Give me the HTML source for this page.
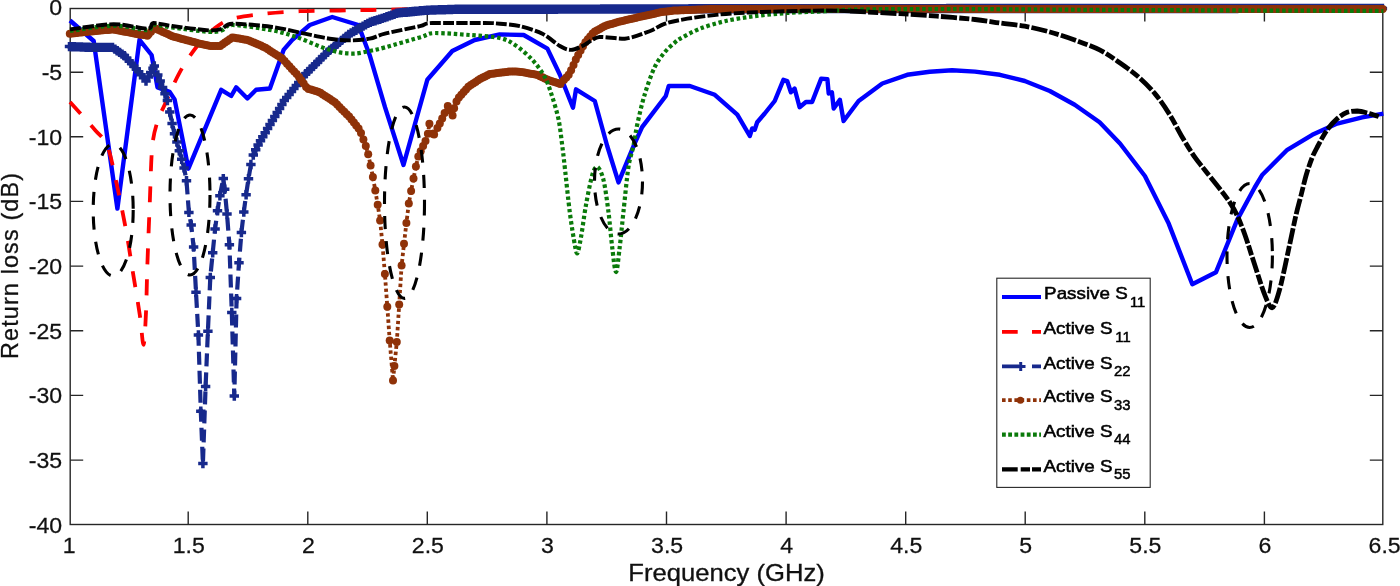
<!DOCTYPE html>
<html><head><meta charset="utf-8"><title>Return loss</title>
<style>html,body{margin:0;padding:0;background:#fff}body{width:1400px;height:586px;overflow:hidden}.t text{font-family:"Liberation Sans",sans-serif}</style></head>
<body>
<svg width="1400" height="586" viewBox="0 0 1400 586" style="display:block">
<rect width="1400" height="586" fill="#fff"/>
<g stroke="#262626" stroke-width="1.4" fill="none">
<rect x="70.2" y="8.5" width="1312.6" height="516.0"/>
<path d="M188.2 524.5 v-13 M188.2 8.5 v13"/>
<path d="M307.8 524.5 v-13 M307.8 8.5 v13"/>
<path d="M427.3 524.5 v-13 M427.3 8.5 v13"/>
<path d="M546.9 524.5 v-13 M546.9 8.5 v13"/>
<path d="M666.5 524.5 v-13 M666.5 8.5 v13"/>
<path d="M786.1 524.5 v-13 M786.1 8.5 v13"/>
<path d="M905.7 524.5 v-13 M905.7 8.5 v13"/>
<path d="M1025.2 524.5 v-13 M1025.2 8.5 v13"/>
<path d="M1144.8 524.5 v-13 M1144.8 8.5 v13"/>
<path d="M1264.4 524.5 v-13 M1264.4 8.5 v13"/>
<path d="M70.2 72.2 h13 M1382.8 72.2 h-13"/>
<path d="M70.2 136.8 h13 M1382.8 136.8 h-13"/>
<path d="M70.2 201.4 h13 M1382.8 201.4 h-13"/>
<path d="M70.2 266.1 h13 M1382.8 266.1 h-13"/>
<path d="M70.2 330.8 h13 M1382.8 330.8 h-13"/>
<path d="M70.2 395.4 h13 M1382.8 395.4 h-13"/>
<path d="M70.2 460.1 h13 M1382.8 460.1 h-13"/>
</g>
<g fill="none" stroke-linejoin="round">
<path d="M70.0 20.5 L93.7 41.0 L117.4 208.6 L139.5 39.8 L151.6 55.0 L157.5 87.4 L169.5 91.7 L174.6 99.4 L188.4 168.7 L221.2 89.8 L231.2 96.0 L236.2 87.3 L247.4 98.5 L256.1 89.8 L269.9 88.5 L283.6 49.9 L292.3 39.9 L309.8 25.0 L332.2 17.0 L358.4 25.0 L369.6 54.9 L385.0 107.2 L403.5 165.0 L427.3 79.8 L452.3 51.0 L474.7 40.0 L499.7 34.4 L523.7 35.0 L547.4 48.6 L559.9 74.8 L573.0 107.7 L576.0 89.3 L594.8 101.0 L607.2 146.0 L618.5 182.4 L634.7 143.4 L642.1 127.2 L665.8 96.0 L668.7 86.0 L689.9 86.0 L714.8 94.8 L737.3 114.7 L749.8 136.0 L752.2 128.4 L754.7 129.7 L757.2 122.2 L764.7 113.5 L774.7 101.0 L783.4 79.8 L787.2 81.0 L790.9 92.3 L794.6 88.5 L799.6 107.2 L805.9 102.0 L812.1 102.0 L821.2 78.6 L827.4 79.3 L828.7 93.5 L831.9 92.3 L833.7 108.5 L839.9 99.8 L843.6 121.0 L858.6 101.0 L882.3 83.5 L907.2 74.8 L929.7 71.8 L952.1 70.3 L975.0 71.6 L999.9 74.8 L1024.8 81.0 L1049.8 91.0 L1074.7 104.7 L1099.6 122.2 L1120.0 143.5 L1144.9 176.0 L1168.7 223.6 L1192.3 284.2 L1216.0 272.2 L1237.2 219.9 L1254.7 187.5 L1262.4 174.7 L1287.3 149.8 L1312.3 134.8 L1337.2 123.6 L1362.2 117.3 L1383.4 113.6" stroke="#0000ff" stroke-width="4.4" stroke-linejoin="round"/>
<path d="M70.0 102.0 C74.0 106.5 89.0 123.0 95.0 130.0 C101.0 137.0 103.8 136.8 107.4 146.0 C111.0 155.2 114.4 174.0 117.4 187.4 C120.4 200.8 123.6 217.0 126.0 230.0 C128.4 243.0 130.1 255.1 132.3 268.7 C134.5 282.3 138.0 302.8 139.8 315.0 C141.6 327.2 142.5 344.8 143.5 344.8 C144.5 344.4 145.4 324.8 146.0 312.4 C146.6 300.0 146.7 284.6 147.3 267.0 C147.9 249.4 149.0 221.7 149.8 202.3 C150.6 182.9 151.0 159.2 152.3 146.0 C153.6 132.8 156.0 126.6 158.0 120.0 C160.0 113.4 161.2 112.3 164.7 104.7 C168.2 97.1 174.5 81.7 179.7 72.3 C184.9 62.9 191.6 53.1 197.2 46.0 C202.8 38.9 209.4 32.4 215.0 28.0 C220.6 23.6 224.4 21.0 232.4 18.7 C240.4 16.4 254.1 14.9 264.9 13.7 C275.7 12.5 287.8 11.7 299.8 11.2 C311.8 10.7 328.1 10.7 339.7 10.5 C351.3 10.3 358.4 10.2 372.0 10.0 C385.6 9.8 404.5 9.2 425.0 9.0 C445.5 8.8 488.0 8.7 500.0 8.7" stroke="#ff0000" stroke-width="3.8" stroke-dasharray="16 15"/>
<path d="M69.5 46.6 L71.9 46.7 L74.3 46.8 L76.7 46.9 L79.0 46.9 L81.4 47.0 L83.8 47.1 L86.2 47.2 L88.6 47.3 L91.0 47.4 L93.4 47.4 L95.8 47.4 L98.1 47.4 L100.5 47.4 L102.9 47.4 L105.3 47.4 L107.7 47.4 L110.1 47.4 L112.5 47.4 L114.9 49.1 L117.2 50.8 L119.6 52.4 L122.0 54.1 L124.4 55.7 L126.8 58.2 L129.2 60.9 L131.6 63.6 L133.9 66.2 L136.3 68.9 L138.7 71.8 L141.1 74.8 L143.5 77.8 L146.0 81.0 L148.3 76.9 L150.7 72.6 L153.0 68.3 L154.3 66.0 L157.8 75.0 L160.2 81.1 L162.6 87.4 L165.0 93.8 L167.4 100.5 L169.8 112.0 L172.1 123.5 L174.5 133.7 L176.9 142.1 L179.3 150.7 L181.7 159.2 L184.1 167.9 L186.5 180.8 L188.9 212.4 L191.2 224.9 L193.6 247.1 L196.0 292.2 L198.4 335.0 L200.8 411.2 L202.9 463.5 L205.6 386.4 L207.9 331.3 L210.3 277.4 L212.7 252.8 L215.1 228.9 L217.5 210.7 L219.9 195.7 L223.3 178.6 L224.7 189.3 L227.0 213.9 L229.4 244.8 L231.8 312.5 L234.3 396.0 L236.6 298.6 L239.0 262.8 L241.4 232.6 L243.8 212.1 L246.1 194.7 L248.5 178.8 L250.9 164.5 L253.3 155.1 L255.7 149.8 L258.1 144.9 L260.5 140.8 L262.8 136.7 L265.2 132.7 L267.6 128.6 L270.0 124.5 L272.4 120.5 L274.8 116.5 L277.2 112.6 L279.6 108.6 L281.9 104.6 L284.3 100.6 L286.7 97.4 L289.1 94.4 L291.5 91.4 L293.9 88.5 L296.3 85.5 L298.7 82.5 L301.0 79.5 L303.4 76.5 L305.8 73.8 L308.2 71.4 L310.6 69.0 L313.0 66.6 L315.4 64.2 L317.7 61.9 L320.1 59.5 L322.5 57.1 L324.9 54.7 L327.3 52.3 L329.7 50.3 L332.1 48.4 L334.5 46.4 L336.8 44.4 L339.2 42.4 L341.6 40.4 L344.0 38.4 L346.4 36.4 L348.8 34.5 L351.2 32.9 L353.6 31.5 L355.9 30.2 L358.3 28.8 L360.7 27.4 L363.1 26.1 L365.5 24.7 L367.9 23.4 L370.3 22.2 L372.6 21.4 L375.0 20.7 L377.4 19.9 L379.8 19.2 L382.2 18.4 L384.6 17.6 L387.0 16.8 L389.4 15.9 L391.7 15.1 L394.1 14.2 L396.5 13.3 L398.9 12.9 L401.3 12.6 L403.7 12.4 L406.1 12.2 L408.5 12.0 L410.8 11.7 L413.2 11.5 L415.6 11.3 L418.0 11.1 L420.4 10.8 L422.8 10.6 L425.2 10.4 L427.6 10.2 L429.9 10.1 L432.3 10.0 L434.7 10.0 L437.1 9.9 L439.5 9.8 L441.9 9.8 L444.3 9.7 L446.6 9.6 L449.0 9.5 L451.4 9.5 L453.8 9.4 L456.2 9.3 L458.6 9.2 L461.0 9.2 L463.4 9.2 L465.7 9.2 L468.1 9.2 L470.5 9.2 L472.9 9.2 L475.3 9.2 L477.7 9.2 L480.1 9.2 L482.5 9.2 L484.8 9.2 L487.2 9.2 L489.6 9.2 L492.0 9.2 L494.4 9.2 L496.8 9.2 L499.2 9.2 L501.5 9.2 L503.9 9.2 L506.3 9.2 L508.7 9.2 L511.1 9.2 L513.5 9.2 L515.9 9.2 L518.3 9.2 L520.6 9.2 L523.0 9.2 L525.4 9.2 L527.8 9.2 L530.2 9.2 L532.6 9.2 L535.0 9.2 L537.4 9.2 L539.7 9.2 L542.1 9.2 L544.5 9.2 L546.9 9.2 L549.3 9.2 L551.7 9.2 L554.1 9.2 L556.4 9.2 L558.8 9.1 L561.2 9.1 L563.6 9.1 L566.0 9.1 L568.4 9.1 L570.8 9.1 L573.2 9.1 L575.5 9.1 L577.9 9.1 L580.3 9.1 L582.7 9.1 L585.1 9.1 L587.5 9.1 L589.9 9.1 L592.3 9.1 L594.6 9.1 L597.0 9.1 L599.4 9.1 L601.8 9.0 L604.2 9.0 L606.6 9.0 L609.0 9.0 L611.3 9.0 L613.7 9.0 L616.1 9.0 L618.5 9.0 L620.9 9.0 L623.3 9.0 L625.7 9.0 L628.1 9.0 L630.4 9.0 L632.8 9.0 L635.2 9.0 L637.6 9.0 L640.0 9.0 L642.4 9.0 L644.8 9.0 L647.2 8.9 L649.5 8.9 L651.9 8.9 L654.3 8.9 L656.7 8.9 L659.1 8.9 L661.5 8.9 L663.9 8.9 L666.3 8.9 L668.6 8.9 L671.0 8.9 L673.4 8.9 L675.8 8.9 L678.2 8.9 L680.6 8.9 L683.0 8.9 L685.3 8.9 L687.7 8.9 L690.1 8.8 L692.5 8.8 L694.9 8.8 L697.3 8.8 L699.7 8.8 L702.1 8.8 L704.4 8.8 L706.8 8.8 L709.2 8.8 L711.6 8.8 L714.0 8.8 L716.4 8.8 L718.8 8.8 L721.2 8.8 L723.5 8.8 L725.9 8.8 L728.3 8.8 L730.7 8.8 L733.1 8.8 L735.5 8.7 L737.9 8.7 L740.2 8.7 L742.6 8.7 L745.0 8.7 L747.4 8.7 L749.8 8.7 L752.2 8.7 L754.6 8.7 L757.0 8.7 L759.3 8.7 L761.7 8.7 L764.1 8.7 L766.5 8.7 L768.9 8.7 L771.3 8.7 L773.7 8.7 L776.1 8.7 L778.4 8.6 L780.8 8.6 L783.2 8.6 L785.6 8.6 L788.0 8.6 L790.4 8.6 L792.8 8.6 L795.1 8.6 L797.5 8.6 L799.9 8.6 L802.3 8.6 L804.7 8.6 L807.1 8.6 L809.5 8.6 L811.9 8.6 L814.2 8.6 L816.6 8.6 L819.0 8.6 L821.4 8.6 L823.8 8.6 L826.2 8.6 L828.6 8.6 L831.0 8.6 L833.3 8.6 L835.7 8.6 L838.1 8.6 L840.5 8.6 L842.9 8.6 L845.3 8.6 L847.7 8.6 L850.0 8.6 L852.4 8.6 L854.8 8.6 L857.2 8.6 L859.6 8.6 L862.0 8.6 L864.4 8.6 L866.8 8.6 L869.1 8.6 L871.5 8.6 L873.9 8.6 L876.3 8.6 L878.7 8.6 L881.1 8.6 L883.5 8.6 L885.9 8.6 L888.2 8.6 L890.6 8.6 L893.0 8.6 L895.4 8.6 L897.8 8.6 L900.2 8.6 L902.6 8.6 L905.0 8.6 L907.3 8.6 L909.7 8.6 L912.1 8.6 L914.5 8.6 L916.9 8.6 L919.3 8.6 L921.7 8.6 L924.0 8.6 L926.4 8.6 L928.8 8.6 L931.2 8.6 L933.6 8.6 L936.0 8.6 L938.4 8.6 L940.8 8.6 L943.1 8.6 L945.5 8.6 L947.9 8.5 L950.3 8.5 L952.7 8.5 L955.1 8.5 L957.5 8.5 L959.9 8.5 L962.2 8.5 L964.6 8.5 L967.0 8.5 L969.4 8.5 L971.8 8.5 L974.2 8.5 L976.6 8.5 L978.9 8.5 L981.3 8.5 L983.7 8.5 L986.1 8.5 L988.5 8.5 L990.9 8.5 L993.3 8.5 L995.7 8.5 L998.0 8.5 L1000.4 8.5 L1002.8 8.5 L1005.2 8.5 L1007.6 8.5 L1010.0 8.5 L1012.4 8.5 L1014.8 8.5 L1017.1 8.5 L1019.5 8.5 L1021.9 8.5 L1024.3 8.5 L1026.7 8.5 L1029.1 8.5 L1031.5 8.5 L1033.8 8.5 L1036.2 8.5 L1038.6 8.5 L1041.0 8.5 L1043.4 8.5 L1045.8 8.5 L1048.2 8.5 L1050.6 8.5 L1052.9 8.5 L1055.3 8.5 L1057.7 8.5 L1060.1 8.5 L1062.5 8.5 L1064.9 8.5 L1067.3 8.5 L1069.7 8.5 L1072.0 8.5 L1074.4 8.5 L1076.8 8.5 L1079.2 8.5 L1081.6 8.5 L1084.0 8.5 L1086.4 8.5 L1088.7 8.5 L1091.1 8.5 L1093.5 8.5 L1095.9 8.5 L1098.3 8.5 L1100.7 8.5 L1103.1 8.5 L1105.5 8.5 L1107.8 8.5 L1110.2 8.5 L1112.6 8.5 L1115.0 8.5 L1117.4 8.5 L1119.8 8.5 L1122.2 8.5 L1124.6 8.5 L1126.9 8.5 L1129.3 8.5 L1131.7 8.5 L1134.1 8.5 L1136.5 8.5 L1138.9 8.5 L1141.3 8.5 L1143.7 8.5 L1146.0 8.5 L1148.4 8.5 L1150.8 8.5 L1153.2 8.5 L1155.6 8.5 L1158.0 8.5 L1160.4 8.5 L1162.7 8.5 L1165.1 8.5 L1167.5 8.5 L1169.9 8.5 L1172.3 8.5 L1174.7 8.5 L1177.1 8.5 L1179.5 8.5 L1181.8 8.5 L1184.2 8.5 L1186.6 8.5 L1189.0 8.5 L1191.4 8.5 L1193.8 8.5 L1196.2 8.5 L1198.6 8.5 L1200.9 8.5 L1203.3 8.5 L1205.7 8.5 L1208.1 8.5 L1210.5 8.5 L1212.9 8.5 L1215.3 8.5 L1217.6 8.5 L1220.0 8.5 L1222.4 8.5 L1224.8 8.5 L1227.2 8.5 L1229.6 8.5 L1232.0 8.5 L1234.4 8.5 L1236.7 8.5 L1239.1 8.4 L1241.5 8.4 L1243.9 8.4 L1246.3 8.4 L1248.7 8.4 L1251.1 8.4 L1253.5 8.4 L1255.8 8.4 L1258.2 8.4 L1260.6 8.4 L1263.0 8.4 L1265.4 8.4 L1267.8 8.4 L1270.2 8.4 L1272.5 8.4 L1274.9 8.4 L1277.3 8.4 L1279.7 8.4 L1282.1 8.4 L1284.5 8.4 L1286.9 8.4 L1289.3 8.4 L1291.6 8.4 L1294.0 8.4 L1296.4 8.4 L1298.8 8.4 L1301.2 8.4 L1303.6 8.4 L1306.0 8.4 L1308.4 8.4 L1310.7 8.4 L1313.1 8.4 L1315.5 8.4 L1317.9 8.4 L1320.3 8.4 L1322.7 8.4 L1325.1 8.4 L1327.4 8.4 L1329.8 8.4 L1332.2 8.4 L1334.6 8.4 L1337.0 8.4 L1339.4 8.4 L1341.8 8.4 L1344.2 8.4 L1346.5 8.4 L1348.9 8.4 L1351.3 8.4 L1353.7 8.4 L1356.1 8.4 L1358.5 8.4 L1360.9 8.4 L1363.3 8.4 L1365.6 8.4 L1368.0 8.4 L1370.4 8.4 L1372.8 8.4 L1375.2 8.4 L1377.6 8.4 L1380.0 8.4 L1382.4 8.4" stroke="#17298c" stroke-width="4.2" stroke-dasharray="13 6"/>
<path d="M64.8 46.6h9.4M69.5 41.9v9.4M67.2 46.7h9.4M71.9 42.0v9.4M69.6 46.8h9.4M74.3 42.1v9.4M72.0 46.9h9.4M76.7 42.2v9.4M74.3 46.9h9.4M79.0 42.2v9.4M76.7 47.0h9.4M81.4 42.3v9.4M79.1 47.1h9.4M83.8 42.4v9.4M81.5 47.2h9.4M86.2 42.5v9.4M83.9 47.3h9.4M88.6 42.6v9.4M86.3 47.4h9.4M91.0 42.7v9.4M88.7 47.4h9.4M93.4 42.7v9.4M91.1 47.4h9.4M95.8 42.7v9.4M93.4 47.4h9.4M98.1 42.7v9.4M95.8 47.4h9.4M100.5 42.7v9.4M98.2 47.4h9.4M102.9 42.7v9.4M100.6 47.4h9.4M105.3 42.7v9.4M103.0 47.4h9.4M107.7 42.7v9.4M105.4 47.4h9.4M110.1 42.7v9.4M107.8 47.4h9.4M112.5 42.7v9.4M110.2 49.1h9.4M114.9 44.4v9.4M112.5 50.8h9.4M117.2 46.1v9.4M114.9 52.4h9.4M119.6 47.7v9.4M117.3 54.1h9.4M122.0 49.4v9.4M119.7 55.7h9.4M124.4 51.0v9.4M122.1 58.2h9.4M126.8 53.5v9.4M124.5 60.9h9.4M129.2 56.2v9.4M126.9 63.6h9.4M131.6 58.9v9.4M129.2 66.2h9.4M133.9 61.5v9.4M131.6 68.9h9.4M136.3 64.2v9.4M134.0 71.8h9.4M138.7 67.1v9.4M136.4 74.8h9.4M141.1 70.1v9.4M138.8 77.8h9.4M143.5 73.1v9.4M141.3 81.0h9.4M146.0 76.3v9.4M143.6 76.9h9.4M148.3 72.2v9.4M146.0 72.6h9.4M150.7 67.9v9.4M148.3 68.3h9.4M153.0 63.6v9.4M149.6 66.0h9.4M154.3 61.3v9.4M153.1 75.0h9.4M157.8 70.3v9.4M155.5 81.1h9.4M160.2 76.4v9.4M157.9 87.4h9.4M162.6 82.7v9.4M160.3 93.8h9.4M165.0 89.1v9.4M162.7 100.5h9.4M167.4 95.8v9.4M165.1 112.0h9.4M169.8 107.3v9.4M167.4 123.5h9.4M172.1 118.8v9.4M169.8 133.7h9.4M174.5 129.0v9.4M172.2 142.1h9.4M176.9 137.4v9.4M174.6 150.7h9.4M179.3 146.0v9.4M177.0 159.2h9.4M181.7 154.5v9.4M179.4 167.9h9.4M184.1 163.2v9.4M181.8 180.8h9.4M186.5 176.1v9.4M184.2 212.4h9.4M188.9 207.7v9.4M186.5 224.9h9.4M191.2 220.2v9.4M188.9 247.1h9.4M193.6 242.4v9.4M191.3 292.2h9.4M196.0 287.5v9.4M193.7 335.0h9.4M198.4 330.3v9.4M196.1 411.2h9.4M200.8 406.5v9.4M198.2 463.5h9.4M202.9 458.8v9.4M200.9 386.4h9.4M205.6 381.7v9.4M203.2 331.3h9.4M207.9 326.6v9.4M205.6 277.4h9.4M210.3 272.7v9.4M208.0 252.8h9.4M212.7 248.1v9.4M210.4 228.9h9.4M215.1 224.2v9.4M212.8 210.7h9.4M217.5 206.0v9.4M215.2 195.7h9.4M219.9 191.0v9.4M218.6 178.6h9.4M223.3 173.9v9.4M220.0 189.3h9.4M224.7 184.6v9.4M222.3 213.9h9.4M227.0 209.2v9.4M224.7 244.8h9.4M229.4 240.1v9.4M227.1 312.5h9.4M231.8 307.8v9.4M229.6 396.0h9.4M234.3 391.3v9.4M231.9 298.6h9.4M236.6 293.9v9.4M234.3 262.8h9.4M239.0 258.1v9.4M236.7 232.6h9.4M241.4 227.9v9.4M239.1 212.1h9.4M243.8 207.4v9.4M241.4 194.7h9.4M246.1 190.0v9.4M243.8 178.8h9.4M248.5 174.1v9.4M246.2 164.5h9.4M250.9 159.8v9.4M248.6 155.1h9.4M253.3 150.4v9.4M251.0 149.8h9.4M255.7 145.1v9.4M253.4 144.9h9.4M258.1 140.2v9.4M255.8 140.8h9.4M260.5 136.1v9.4M258.1 136.7h9.4M262.8 132.0v9.4M260.5 132.7h9.4M265.2 128.0v9.4M262.9 128.6h9.4M267.6 123.9v9.4M265.3 124.5h9.4M270.0 119.8v9.4M267.7 120.5h9.4M272.4 115.8v9.4M270.1 116.5h9.4M274.8 111.8v9.4M272.5 112.6h9.4M277.2 107.9v9.4M274.9 108.6h9.4M279.6 103.9v9.4M277.2 104.6h9.4M281.9 99.9v9.4M279.6 100.6h9.4M284.3 95.9v9.4M282.0 97.4h9.4M286.7 92.7v9.4M284.4 94.4h9.4M289.1 89.7v9.4M286.8 91.4h9.4M291.5 86.7v9.4M289.2 88.5h9.4M293.9 83.8v9.4M291.6 85.5h9.4M296.3 80.8v9.4M294.0 82.5h9.4M298.7 77.8v9.4M296.3 79.5h9.4M301.0 74.8v9.4M298.7 76.5h9.4M303.4 71.8v9.4M301.1 73.8h9.4M305.8 69.1v9.4M303.5 71.4h9.4M308.2 66.7v9.4M305.9 69.0h9.4M310.6 64.3v9.4M308.3 66.6h9.4M313.0 61.9v9.4M310.7 64.2h9.4M315.4 59.5v9.4M313.0 61.9h9.4M317.7 57.2v9.4M315.4 59.5h9.4M320.1 54.8v9.4M317.8 57.1h9.4M322.5 52.4v9.4M320.2 54.7h9.4M324.9 50.0v9.4M322.6 52.3h9.4M327.3 47.6v9.4M325.0 50.3h9.4M329.7 45.6v9.4M327.4 48.4h9.4M332.1 43.7v9.4M329.8 46.4h9.4M334.5 41.7v9.4M332.1 44.4h9.4M336.8 39.7v9.4M334.5 42.4h9.4M339.2 37.7v9.4M336.9 40.4h9.4M341.6 35.7v9.4M339.3 38.4h9.4M344.0 33.7v9.4M341.7 36.4h9.4M346.4 31.7v9.4M344.1 34.5h9.4M348.8 29.8v9.4M346.5 32.9h9.4M351.2 28.2v9.4M348.9 31.5h9.4M353.6 26.8v9.4M351.2 30.2h9.4M355.9 25.5v9.4M353.6 28.8h9.4M358.3 24.1v9.4M356.0 27.4h9.4M360.7 22.7v9.4M358.4 26.1h9.4M363.1 21.4v9.4M360.8 24.7h9.4M365.5 20.0v9.4M363.2 23.4h9.4M367.9 18.7v9.4M365.6 22.2h9.4M370.3 17.5v9.4M367.9 21.4h9.4M372.6 16.7v9.4M370.3 20.7h9.4M375.0 16.0v9.4M372.7 19.9h9.4M377.4 15.2v9.4M375.1 19.2h9.4M379.8 14.5v9.4M377.5 18.4h9.4M382.2 13.7v9.4M379.9 17.6h9.4M384.6 12.9v9.4M382.3 16.8h9.4M387.0 12.1v9.4M384.7 15.9h9.4M389.4 11.2v9.4M387.0 15.1h9.4M391.7 10.4v9.4M389.4 14.2h9.4M394.1 9.5v9.4M391.8 13.3h9.4M396.5 8.6v9.4M394.2 12.9h9.4M398.9 8.2v9.4M396.6 12.6h9.4M401.3 7.9v9.4M399.0 12.4h9.4M403.7 7.7v9.4M401.4 12.2h9.4M406.1 7.5v9.4M403.8 12.0h9.4M408.5 7.3v9.4M406.1 11.7h9.4M410.8 7.0v9.4M408.5 11.5h9.4M413.2 6.8v9.4M410.9 11.3h9.4M415.6 6.6v9.4M413.3 11.1h9.4M418.0 6.4v9.4M415.7 10.8h9.4M420.4 6.1v9.4M418.1 10.6h9.4M422.8 5.9v9.4M420.5 10.4h9.4M425.2 5.7v9.4M422.9 10.2h9.4M427.6 5.5v9.4M425.2 10.1h9.4M429.9 5.4v9.4M427.6 10.0h9.4M432.3 5.3v9.4M430.0 10.0h9.4M434.7 5.3v9.4M432.4 9.9h9.4M437.1 5.2v9.4M434.8 9.8h9.4M439.5 5.1v9.4M437.2 9.8h9.4M441.9 5.1v9.4M439.6 9.7h9.4M444.3 5.0v9.4M441.9 9.6h9.4M446.6 4.9v9.4M444.3 9.5h9.4M449.0 4.8v9.4M446.7 9.5h9.4M451.4 4.8v9.4M449.1 9.4h9.4M453.8 4.7v9.4M451.5 9.3h9.4M456.2 4.6v9.4M453.9 9.2h9.4M458.6 4.5v9.4M456.3 9.2h9.4M461.0 4.5v9.4M458.7 9.2h9.4M463.4 4.5v9.4M461.0 9.2h9.4M465.7 4.5v9.4M463.4 9.2h9.4M468.1 4.5v9.4M465.8 9.2h9.4M470.5 4.5v9.4M468.2 9.2h9.4M472.9 4.5v9.4M470.6 9.2h9.4M475.3 4.5v9.4M473.0 9.2h9.4M477.7 4.5v9.4M475.4 9.2h9.4M480.1 4.5v9.4M477.8 9.2h9.4M482.5 4.5v9.4M480.1 9.2h9.4M484.8 4.5v9.4M482.5 9.2h9.4M487.2 4.5v9.4M484.9 9.2h9.4M489.6 4.5v9.4M487.3 9.2h9.4M492.0 4.5v9.4M489.7 9.2h9.4M494.4 4.5v9.4M492.1 9.2h9.4M496.8 4.5v9.4M494.5 9.2h9.4M499.2 4.5v9.4M496.8 9.2h9.4M501.5 4.5v9.4M499.2 9.2h9.4M503.9 4.5v9.4M501.6 9.2h9.4M506.3 4.5v9.4M504.0 9.2h9.4M508.7 4.5v9.4M506.4 9.2h9.4M511.1 4.5v9.4M508.8 9.2h9.4M513.5 4.5v9.4M511.2 9.2h9.4M515.9 4.5v9.4M513.6 9.2h9.4M518.3 4.5v9.4M515.9 9.2h9.4M520.6 4.5v9.4M518.3 9.2h9.4M523.0 4.5v9.4M520.7 9.2h9.4M525.4 4.5v9.4M523.1 9.2h9.4M527.8 4.5v9.4M525.5 9.2h9.4M530.2 4.5v9.4M527.9 9.2h9.4M532.6 4.5v9.4M530.3 9.2h9.4M535.0 4.5v9.4M532.7 9.2h9.4M537.4 4.5v9.4M535.0 9.2h9.4M539.7 4.5v9.4M537.4 9.2h9.4M542.1 4.5v9.4M539.8 9.2h9.4M544.5 4.5v9.4M542.2 9.2h9.4M546.9 4.5v9.4M544.6 9.2h9.4M549.3 4.5v9.4M547.0 9.2h9.4M551.7 4.5v9.4M549.4 9.2h9.4M554.1 4.5v9.4M551.7 9.2h9.4M556.4 4.5v9.4M554.1 9.1h9.4M558.8 4.4v9.4M556.5 9.1h9.4M561.2 4.4v9.4M558.9 9.1h9.4M563.6 4.4v9.4M561.3 9.1h9.4M566.0 4.4v9.4M563.7 9.1h9.4M568.4 4.4v9.4M566.1 9.1h9.4M570.8 4.4v9.4M568.5 9.1h9.4M573.2 4.4v9.4M570.8 9.1h9.4M575.5 4.4v9.4M573.2 9.1h9.4M577.9 4.4v9.4M575.6 9.1h9.4M580.3 4.4v9.4M578.0 9.1h9.4M582.7 4.4v9.4M580.4 9.1h9.4M585.1 4.4v9.4M582.8 9.1h9.4M587.5 4.4v9.4M585.2 9.1h9.4M589.9 4.4v9.4M587.6 9.1h9.4M592.3 4.4v9.4M589.9 9.1h9.4M594.6 4.4v9.4M592.3 9.1h9.4M597.0 4.4v9.4M594.7 9.1h9.4M599.4 4.4v9.4M597.1 9.0h9.4M601.8 4.3v9.4M599.5 9.0h9.4M604.2 4.3v9.4M601.9 9.0h9.4M606.6 4.3v9.4M604.3 9.0h9.4M609.0 4.3v9.4M606.6 9.0h9.4M611.3 4.3v9.4M609.0 9.0h9.4M613.7 4.3v9.4M611.4 9.0h9.4M616.1 4.3v9.4M613.8 9.0h9.4M618.5 4.3v9.4M616.2 9.0h9.4M620.9 4.3v9.4M618.6 9.0h9.4M623.3 4.3v9.4M621.0 9.0h9.4M625.7 4.3v9.4M623.4 9.0h9.4M628.1 4.3v9.4M625.7 9.0h9.4M630.4 4.3v9.4M628.1 9.0h9.4M632.8 4.3v9.4M630.5 9.0h9.4M635.2 4.3v9.4M632.9 9.0h9.4M637.6 4.3v9.4M635.3 9.0h9.4M640.0 4.3v9.4M637.7 9.0h9.4M642.4 4.3v9.4M640.1 9.0h9.4M644.8 4.3v9.4M642.5 8.9h9.4M647.2 4.2v9.4M644.8 8.9h9.4M649.5 4.2v9.4M647.2 8.9h9.4M651.9 4.2v9.4M649.6 8.9h9.4M654.3 4.2v9.4M652.0 8.9h9.4M656.7 4.2v9.4M654.4 8.9h9.4M659.1 4.2v9.4M656.8 8.9h9.4M661.5 4.2v9.4M659.2 8.9h9.4M663.9 4.2v9.4M661.6 8.9h9.4M666.3 4.2v9.4M663.9 8.9h9.4M668.6 4.2v9.4M666.3 8.9h9.4M671.0 4.2v9.4M668.7 8.9h9.4M673.4 4.2v9.4M671.1 8.9h9.4M675.8 4.2v9.4M673.5 8.9h9.4M678.2 4.2v9.4M675.9 8.9h9.4M680.6 4.2v9.4M678.3 8.9h9.4M683.0 4.2v9.4M680.6 8.9h9.4M685.3 4.2v9.4M683.0 8.9h9.4M687.7 4.2v9.4M685.4 8.8h9.4M690.1 4.1v9.4M687.8 8.8h9.4M692.5 4.1v9.4M690.2 8.8h9.4M694.9 4.1v9.4M692.6 8.8h9.4M697.3 4.1v9.4M695.0 8.8h9.4M699.7 4.1v9.4M697.4 8.8h9.4M702.1 4.1v9.4M699.7 8.8h9.4M704.4 4.1v9.4M702.1 8.8h9.4M706.8 4.1v9.4M704.5 8.8h9.4M709.2 4.1v9.4M706.9 8.8h9.4M711.6 4.1v9.4M709.3 8.8h9.4M714.0 4.1v9.4M711.7 8.8h9.4M716.4 4.1v9.4M714.1 8.8h9.4M718.8 4.1v9.4M716.5 8.8h9.4M721.2 4.1v9.4M718.8 8.8h9.4M723.5 4.1v9.4M721.2 8.8h9.4M725.9 4.1v9.4M723.6 8.8h9.4M728.3 4.1v9.4M726.0 8.8h9.4M730.7 4.1v9.4M728.4 8.8h9.4M733.1 4.1v9.4M730.8 8.7h9.4M735.5 4.0v9.4M733.2 8.7h9.4M737.9 4.0v9.4M735.5 8.7h9.4M740.2 4.0v9.4M737.9 8.7h9.4M742.6 4.0v9.4M740.3 8.7h9.4M745.0 4.0v9.4M742.7 8.7h9.4M747.4 4.0v9.4M745.1 8.7h9.4M749.8 4.0v9.4M747.5 8.7h9.4M752.2 4.0v9.4M749.9 8.7h9.4M754.6 4.0v9.4M752.3 8.7h9.4M757.0 4.0v9.4M754.6 8.7h9.4M759.3 4.0v9.4M757.0 8.7h9.4M761.7 4.0v9.4M759.4 8.7h9.4M764.1 4.0v9.4M761.8 8.7h9.4M766.5 4.0v9.4M764.2 8.7h9.4M768.9 4.0v9.4M766.6 8.7h9.4M771.3 4.0v9.4M769.0 8.7h9.4M773.7 4.0v9.4M771.4 8.7h9.4M776.1 4.0v9.4M773.7 8.6h9.4M778.4 3.9v9.4M776.1 8.6h9.4M780.8 3.9v9.4M778.5 8.6h9.4M783.2 3.9v9.4M780.9 8.6h9.4M785.6 3.9v9.4M783.3 8.6h9.4M788.0 3.9v9.4M785.7 8.6h9.4M790.4 3.9v9.4M788.1 8.6h9.4M792.8 3.9v9.4M790.4 8.6h9.4M795.1 3.9v9.4M792.8 8.6h9.4M797.5 3.9v9.4M795.2 8.6h9.4M799.9 3.9v9.4M797.6 8.6h9.4M802.3 3.9v9.4M800.0 8.6h9.4M804.7 3.9v9.4M802.4 8.6h9.4M807.1 3.9v9.4M804.8 8.6h9.4M809.5 3.9v9.4M807.2 8.6h9.4M811.9 3.9v9.4M809.5 8.6h9.4M814.2 3.9v9.4M811.9 8.6h9.4M816.6 3.9v9.4M814.3 8.6h9.4M819.0 3.9v9.4M816.7 8.6h9.4M821.4 3.9v9.4M819.1 8.6h9.4M823.8 3.9v9.4M821.5 8.6h9.4M826.2 3.9v9.4M823.9 8.6h9.4M828.6 3.9v9.4M826.3 8.6h9.4M831.0 3.9v9.4M828.6 8.6h9.4M833.3 3.9v9.4M831.0 8.6h9.4M835.7 3.9v9.4M833.4 8.6h9.4M838.1 3.9v9.4M835.8 8.6h9.4M840.5 3.9v9.4M838.2 8.6h9.4M842.9 3.9v9.4M840.6 8.6h9.4M845.3 3.9v9.4M843.0 8.6h9.4M847.7 3.9v9.4M845.3 8.6h9.4M850.0 3.9v9.4M847.7 8.6h9.4M852.4 3.9v9.4M850.1 8.6h9.4M854.8 3.9v9.4M852.5 8.6h9.4M857.2 3.9v9.4M854.9 8.6h9.4M859.6 3.9v9.4M857.3 8.6h9.4M862.0 3.9v9.4M859.7 8.6h9.4M864.4 3.9v9.4M862.1 8.6h9.4M866.8 3.9v9.4M864.4 8.6h9.4M869.1 3.9v9.4M866.8 8.6h9.4M871.5 3.9v9.4M869.2 8.6h9.4M873.9 3.9v9.4M871.6 8.6h9.4M876.3 3.9v9.4M874.0 8.6h9.4M878.7 3.9v9.4M876.4 8.6h9.4M881.1 3.9v9.4M878.8 8.6h9.4M883.5 3.9v9.4M881.2 8.6h9.4M885.9 3.9v9.4M883.5 8.6h9.4M888.2 3.9v9.4M885.9 8.6h9.4M890.6 3.9v9.4M888.3 8.6h9.4M893.0 3.9v9.4M890.7 8.6h9.4M895.4 3.9v9.4M893.1 8.6h9.4M897.8 3.9v9.4M895.5 8.6h9.4M900.2 3.9v9.4M897.9 8.6h9.4M902.6 3.9v9.4M900.3 8.6h9.4M905.0 3.9v9.4M902.6 8.6h9.4M907.3 3.9v9.4M905.0 8.6h9.4M909.7 3.9v9.4M907.4 8.6h9.4M912.1 3.9v9.4M909.8 8.6h9.4M914.5 3.9v9.4M912.2 8.6h9.4M916.9 3.9v9.4M914.6 8.6h9.4M919.3 3.9v9.4M917.0 8.6h9.4M921.7 3.9v9.4M919.3 8.6h9.4M924.0 3.9v9.4M921.7 8.6h9.4M926.4 3.9v9.4M924.1 8.6h9.4M928.8 3.9v9.4M926.5 8.6h9.4M931.2 3.9v9.4M928.9 8.6h9.4M933.6 3.9v9.4M931.3 8.6h9.4M936.0 3.9v9.4M933.7 8.6h9.4M938.4 3.9v9.4M936.1 8.6h9.4M940.8 3.9v9.4M938.4 8.6h9.4M943.1 3.9v9.4M940.8 8.6h9.4M945.5 3.9v9.4M943.2 8.5h9.4M947.9 3.8v9.4M945.6 8.5h9.4M950.3 3.8v9.4M948.0 8.5h9.4M952.7 3.8v9.4M950.4 8.5h9.4M955.1 3.8v9.4M952.8 8.5h9.4M957.5 3.8v9.4M955.2 8.5h9.4M959.9 3.8v9.4M957.5 8.5h9.4M962.2 3.8v9.4M959.9 8.5h9.4M964.6 3.8v9.4M962.3 8.5h9.4M967.0 3.8v9.4M964.7 8.5h9.4M969.4 3.8v9.4M967.1 8.5h9.4M971.8 3.8v9.4M969.5 8.5h9.4M974.2 3.8v9.4M971.9 8.5h9.4M976.6 3.8v9.4M974.2 8.5h9.4M978.9 3.8v9.4M976.6 8.5h9.4M981.3 3.8v9.4M979.0 8.5h9.4M983.7 3.8v9.4M981.4 8.5h9.4M986.1 3.8v9.4M983.8 8.5h9.4M988.5 3.8v9.4M986.2 8.5h9.4M990.9 3.8v9.4M988.6 8.5h9.4M993.3 3.8v9.4M991.0 8.5h9.4M995.7 3.8v9.4M993.3 8.5h9.4M998.0 3.8v9.4M995.7 8.5h9.4M1000.4 3.8v9.4M998.1 8.5h9.4M1002.8 3.8v9.4M1000.5 8.5h9.4M1005.2 3.8v9.4M1002.9 8.5h9.4M1007.6 3.8v9.4M1005.3 8.5h9.4M1010.0 3.8v9.4M1007.7 8.5h9.4M1012.4 3.8v9.4M1010.1 8.5h9.4M1014.8 3.8v9.4M1012.4 8.5h9.4M1017.1 3.8v9.4M1014.8 8.5h9.4M1019.5 3.8v9.4M1017.2 8.5h9.4M1021.9 3.8v9.4M1019.6 8.5h9.4M1024.3 3.8v9.4M1022.0 8.5h9.4M1026.7 3.8v9.4M1024.4 8.5h9.4M1029.1 3.8v9.4M1026.8 8.5h9.4M1031.5 3.8v9.4M1029.1 8.5h9.4M1033.8 3.8v9.4M1031.5 8.5h9.4M1036.2 3.8v9.4M1033.9 8.5h9.4M1038.6 3.8v9.4M1036.3 8.5h9.4M1041.0 3.8v9.4M1038.7 8.5h9.4M1043.4 3.8v9.4M1041.1 8.5h9.4M1045.8 3.8v9.4M1043.5 8.5h9.4M1048.2 3.8v9.4M1045.9 8.5h9.4M1050.6 3.8v9.4M1048.2 8.5h9.4M1052.9 3.8v9.4M1050.6 8.5h9.4M1055.3 3.8v9.4M1053.0 8.5h9.4M1057.7 3.8v9.4M1055.4 8.5h9.4M1060.1 3.8v9.4M1057.8 8.5h9.4M1062.5 3.8v9.4M1060.2 8.5h9.4M1064.9 3.8v9.4M1062.6 8.5h9.4M1067.3 3.8v9.4M1065.0 8.5h9.4M1069.7 3.8v9.4M1067.3 8.5h9.4M1072.0 3.8v9.4M1069.7 8.5h9.4M1074.4 3.8v9.4M1072.1 8.5h9.4M1076.8 3.8v9.4M1074.5 8.5h9.4M1079.2 3.8v9.4M1076.9 8.5h9.4M1081.6 3.8v9.4M1079.3 8.5h9.4M1084.0 3.8v9.4M1081.7 8.5h9.4M1086.4 3.8v9.4M1084.0 8.5h9.4M1088.7 3.8v9.4M1086.4 8.5h9.4M1091.1 3.8v9.4M1088.8 8.5h9.4M1093.5 3.8v9.4M1091.2 8.5h9.4M1095.9 3.8v9.4M1093.6 8.5h9.4M1098.3 3.8v9.4M1096.0 8.5h9.4M1100.7 3.8v9.4M1098.4 8.5h9.4M1103.1 3.8v9.4M1100.8 8.5h9.4M1105.5 3.8v9.4M1103.1 8.5h9.4M1107.8 3.8v9.4M1105.5 8.5h9.4M1110.2 3.8v9.4M1107.9 8.5h9.4M1112.6 3.8v9.4M1110.3 8.5h9.4M1115.0 3.8v9.4M1112.7 8.5h9.4M1117.4 3.8v9.4M1115.1 8.5h9.4M1119.8 3.8v9.4M1117.5 8.5h9.4M1122.2 3.8v9.4M1119.9 8.5h9.4M1124.6 3.8v9.4M1122.2 8.5h9.4M1126.9 3.8v9.4M1124.6 8.5h9.4M1129.3 3.8v9.4M1127.0 8.5h9.4M1131.7 3.8v9.4M1129.4 8.5h9.4M1134.1 3.8v9.4M1131.8 8.5h9.4M1136.5 3.8v9.4M1134.2 8.5h9.4M1138.9 3.8v9.4M1136.6 8.5h9.4M1141.3 3.8v9.4M1139.0 8.5h9.4M1143.7 3.8v9.4M1141.3 8.5h9.4M1146.0 3.8v9.4M1143.7 8.5h9.4M1148.4 3.8v9.4M1146.1 8.5h9.4M1150.8 3.8v9.4M1148.5 8.5h9.4M1153.2 3.8v9.4M1150.9 8.5h9.4M1155.6 3.8v9.4M1153.3 8.5h9.4M1158.0 3.8v9.4M1155.7 8.5h9.4M1160.4 3.8v9.4M1158.0 8.5h9.4M1162.7 3.8v9.4M1160.4 8.5h9.4M1165.1 3.8v9.4M1162.8 8.5h9.4M1167.5 3.8v9.4M1165.2 8.5h9.4M1169.9 3.8v9.4M1167.6 8.5h9.4M1172.3 3.8v9.4M1170.0 8.5h9.4M1174.7 3.8v9.4M1172.4 8.5h9.4M1177.1 3.8v9.4M1174.8 8.5h9.4M1179.5 3.8v9.4M1177.1 8.5h9.4M1181.8 3.8v9.4M1179.5 8.5h9.4M1184.2 3.8v9.4M1181.9 8.5h9.4M1186.6 3.8v9.4M1184.3 8.5h9.4M1189.0 3.8v9.4M1186.7 8.5h9.4M1191.4 3.8v9.4M1189.1 8.5h9.4M1193.8 3.8v9.4M1191.5 8.5h9.4M1196.2 3.8v9.4M1193.9 8.5h9.4M1198.6 3.8v9.4M1196.2 8.5h9.4M1200.9 3.8v9.4M1198.6 8.5h9.4M1203.3 3.8v9.4M1201.0 8.5h9.4M1205.7 3.8v9.4M1203.4 8.5h9.4M1208.1 3.8v9.4M1205.8 8.5h9.4M1210.5 3.8v9.4M1208.2 8.5h9.4M1212.9 3.8v9.4M1210.6 8.5h9.4M1215.3 3.8v9.4M1212.9 8.5h9.4M1217.6 3.8v9.4M1215.3 8.5h9.4M1220.0 3.8v9.4M1217.7 8.5h9.4M1222.4 3.8v9.4M1220.1 8.5h9.4M1224.8 3.8v9.4M1222.5 8.5h9.4M1227.2 3.8v9.4M1224.9 8.5h9.4M1229.6 3.8v9.4M1227.3 8.5h9.4M1232.0 3.8v9.4M1229.7 8.5h9.4M1234.4 3.8v9.4M1232.0 8.5h9.4M1236.7 3.8v9.4M1234.4 8.4h9.4M1239.1 3.7v9.4M1236.8 8.4h9.4M1241.5 3.7v9.4M1239.2 8.4h9.4M1243.9 3.7v9.4M1241.6 8.4h9.4M1246.3 3.7v9.4M1244.0 8.4h9.4M1248.7 3.7v9.4M1246.4 8.4h9.4M1251.1 3.7v9.4M1248.8 8.4h9.4M1253.5 3.7v9.4M1251.1 8.4h9.4M1255.8 3.7v9.4M1253.5 8.4h9.4M1258.2 3.7v9.4M1255.9 8.4h9.4M1260.6 3.7v9.4M1258.3 8.4h9.4M1263.0 3.7v9.4M1260.7 8.4h9.4M1265.4 3.7v9.4M1263.1 8.4h9.4M1267.8 3.7v9.4M1265.5 8.4h9.4M1270.2 3.7v9.4M1267.8 8.4h9.4M1272.5 3.7v9.4M1270.2 8.4h9.4M1274.9 3.7v9.4M1272.6 8.4h9.4M1277.3 3.7v9.4M1275.0 8.4h9.4M1279.7 3.7v9.4M1277.4 8.4h9.4M1282.1 3.7v9.4M1279.8 8.4h9.4M1284.5 3.7v9.4M1282.2 8.4h9.4M1286.9 3.7v9.4M1284.6 8.4h9.4M1289.3 3.7v9.4M1286.9 8.4h9.4M1291.6 3.7v9.4M1289.3 8.4h9.4M1294.0 3.7v9.4M1291.7 8.4h9.4M1296.4 3.7v9.4M1294.1 8.4h9.4M1298.8 3.7v9.4M1296.5 8.4h9.4M1301.2 3.7v9.4M1298.9 8.4h9.4M1303.6 3.7v9.4M1301.3 8.4h9.4M1306.0 3.7v9.4M1303.7 8.4h9.4M1308.4 3.7v9.4M1306.0 8.4h9.4M1310.7 3.7v9.4M1308.4 8.4h9.4M1313.1 3.7v9.4M1310.8 8.4h9.4M1315.5 3.7v9.4M1313.2 8.4h9.4M1317.9 3.7v9.4M1315.6 8.4h9.4M1320.3 3.7v9.4M1318.0 8.4h9.4M1322.7 3.7v9.4M1320.4 8.4h9.4M1325.1 3.7v9.4M1322.7 8.4h9.4M1327.4 3.7v9.4M1325.1 8.4h9.4M1329.8 3.7v9.4M1327.5 8.4h9.4M1332.2 3.7v9.4M1329.9 8.4h9.4M1334.6 3.7v9.4M1332.3 8.4h9.4M1337.0 3.7v9.4M1334.7 8.4h9.4M1339.4 3.7v9.4M1337.1 8.4h9.4M1341.8 3.7v9.4M1339.5 8.4h9.4M1344.2 3.7v9.4M1341.8 8.4h9.4M1346.5 3.7v9.4M1344.2 8.4h9.4M1348.9 3.7v9.4M1346.6 8.4h9.4M1351.3 3.7v9.4M1349.0 8.4h9.4M1353.7 3.7v9.4M1351.4 8.4h9.4M1356.1 3.7v9.4M1353.8 8.4h9.4M1358.5 3.7v9.4M1356.2 8.4h9.4M1360.9 3.7v9.4M1358.6 8.4h9.4M1363.3 3.7v9.4M1360.9 8.4h9.4M1365.6 3.7v9.4M1363.3 8.4h9.4M1368.0 3.7v9.4M1365.7 8.4h9.4M1370.4 3.7v9.4M1368.1 8.4h9.4M1372.8 3.7v9.4M1370.5 8.4h9.4M1375.2 3.7v9.4M1372.9 8.4h9.4M1377.6 3.7v9.4M1375.3 8.4h9.4M1380.0 3.7v9.4M1377.7 8.4h9.4M1382.4 3.7v9.4" stroke="#17298c" stroke-width="3.5"/>
<path d="M69.8 33.7 L72.2 33.4 L74.6 33.2 L77.0 32.9 L79.3 32.6 L81.7 32.4 L84.1 32.1 L86.5 31.9 L88.9 31.6 L91.3 31.4 L93.7 31.2 L96.1 31.0 L98.4 30.8 L100.8 30.6 L103.2 30.3 L105.6 30.1 L108.0 29.9 L110.4 29.7 L113.6 29.4 L115.2 29.7 L117.5 30.2 L119.9 30.7 L122.3 31.2 L124.7 31.7 L127.1 32.1 L129.5 32.6 L131.9 33.1 L134.2 33.6 L136.6 34.0 L139.0 34.4 L141.4 34.8 L143.8 35.1 L147.3 35.7 L148.6 34.3 L151.0 31.7 L154.3 28.0 L155.7 28.7 L158.1 29.7 L160.5 30.8 L162.9 31.9 L165.3 33.0 L167.7 34.1 L170.1 35.2 L172.4 36.3 L174.8 36.9 L177.2 37.6 L179.6 38.2 L182.0 38.9 L184.4 39.5 L186.8 40.2 L189.2 40.8 L191.5 41.5 L193.9 42.1 L196.3 42.8 L198.7 43.4 L201.1 43.9 L203.5 44.5 L205.9 45.0 L208.2 45.6 L210.6 46.0 L213.0 46.0 L215.4 46.0 L217.8 46.0 L220.2 45.9 L222.6 44.2 L225.0 42.6 L227.3 40.9 L229.7 39.3 L232.4 37.4 L234.5 37.8 L236.9 38.2 L239.3 38.6 L241.7 39.0 L244.1 39.4 L246.4 39.8 L248.8 40.6 L251.2 41.6 L253.6 42.6 L256.0 43.6 L258.4 44.6 L260.8 45.6 L263.1 46.7 L265.5 47.8 L267.9 49.3 L270.3 50.9 L272.7 52.4 L275.1 54.0 L277.5 55.5 L279.9 57.0 L282.2 58.6 L284.6 61.1 L287.0 63.7 L289.4 66.3 L291.8 68.9 L294.2 71.4 L296.6 74.0 L299.0 77.1 L301.3 80.3 L303.7 83.6 L306.1 86.9 L308.5 88.9 L310.9 89.6 L313.3 90.3 L315.7 91.1 L318.0 91.8 L320.4 92.8 L322.8 94.4 L325.2 95.9 L327.6 97.5 L330.0 99.1 L332.4 100.7 L334.8 102.3 L337.1 104.6 L339.5 107.0 L341.9 109.4 L344.3 111.8 L346.7 114.2 L349.1 116.6 L351.5 119.4 L353.9 122.4 L356.2 125.4 L358.6 128.4 L361.0 133.0 L363.4 139.5 L365.8 145.9 L368.2 154.2 L370.6 165.5 L372.9 176.9 L375.3 190.4 L377.7 204.8 L380.1 220.4 L382.5 244.6 L384.9 273.9 L387.3 306.7 L389.7 340.4 L393.0 380.5 L394.4 366.1 L396.8 342.0 L399.2 304.5 L401.6 265.6 L404.0 243.8 L406.4 223.0 L408.8 203.5 L411.1 191.0 L413.5 178.5 L415.9 166.5 L418.3 156.5 L420.7 151.3 L423.1 146.0 L425.5 141.0 L427.9 133.7 L429.4 123.7 L432.6 133.7 L434.1 134.6 L437.4 128.1 L439.8 123.4 L442.2 118.4 L444.6 113.1 L447.8 106.0 L449.3 110.2 L452.6 115.5 L454.1 108.3 L456.5 101.5 L458.9 97.5 L461.3 94.8 L463.7 92.1 L466.0 89.4 L468.4 86.7 L470.8 85.1 L473.2 83.5 L475.6 81.9 L478.0 80.3 L480.4 78.8 L482.8 77.6 L485.1 76.4 L487.5 75.2 L489.9 74.1 L492.3 73.8 L494.7 73.4 L497.1 73.1 L499.5 72.8 L501.8 72.5 L504.2 72.2 L506.6 71.9 L509.0 71.6 L511.4 71.5 L513.8 71.6 L516.2 71.6 L518.6 71.7 L520.9 71.9 L523.3 72.3 L525.7 72.8 L528.1 73.2 L530.5 73.7 L532.9 74.1 L535.3 74.6 L537.7 75.1 L540.0 76.2 L542.4 77.3 L544.8 78.4 L547.2 79.5 L549.6 80.5 L552.0 81.3 L554.4 82.0 L556.7 82.8 L559.1 83.6 L560.5 84.0 L563.9 80.1 L566.3 77.4 L568.7 74.7 L571.1 70.3 L573.5 64.9 L575.8 59.5 L578.2 55.0 L580.6 50.6 L583.0 46.3 L585.4 42.3 L587.8 39.3 L590.2 36.4 L592.6 33.4 L594.9 31.5 L597.3 30.2 L599.7 28.9 L602.1 27.6 L604.5 26.3 L606.9 25.3 L609.3 24.6 L611.6 23.9 L614.0 23.2 L616.4 22.5 L618.8 21.8 L621.2 21.2 L623.6 20.7 L626.0 20.1 L628.4 19.6 L630.7 19.0 L633.1 18.4 L635.5 17.9 L637.9 17.3 L640.3 16.8 L642.7 16.3 L645.1 15.8 L647.5 15.2 L649.8 14.7 L652.2 14.2 L654.6 13.7 L657.0 13.1 L659.4 12.6 L661.8 12.1 L664.2 11.8 L666.6 11.5 L668.9 11.2 L671.3 10.9 L673.7 10.6 L676.1 10.5 L678.5 10.4 L680.9 10.3 L683.3 10.2 L685.6 10.1 L688.0 10.0 L690.4 9.9 L692.8 9.8 L695.2 9.7 L697.6 9.6 L700.0 9.5 L702.4 9.4 L704.7 9.3 L707.1 9.2 L709.5 9.1 L711.9 9.0 L714.3 9.0 L716.7 9.0 L719.1 9.0 L721.5 9.0 L723.8 9.0 L726.2 9.0 L728.6 9.0 L731.0 9.0 L733.4 9.0 L735.8 9.0 L738.2 9.0 L740.5 8.9 L742.9 8.9 L745.3 8.9 L747.7 8.9 L750.1 8.9 L752.5 8.9 L754.9 8.9 L757.3 8.9 L759.6 8.9 L762.0 8.9 L764.4 8.9 L766.8 8.9 L769.2 8.9 L771.6 8.9 L774.0 8.9 L776.4 8.9 L778.7 8.9 L781.1 8.9 L783.5 8.9 L785.9 8.9 L788.3 8.9 L790.7 8.9 L793.1 8.9 L795.4 8.9 L797.8 8.8 L800.2 8.8 L802.6 8.8 L805.0 8.8 L807.4 8.8 L809.8 8.8 L812.2 8.8 L814.5 8.8 L816.9 8.8 L819.3 8.8 L821.7 8.8 L824.1 8.8 L826.5 8.8 L828.9 8.8 L831.3 8.8 L833.6 8.8 L836.0 8.8 L838.4 8.8 L840.8 8.8 L843.2 8.8 L845.6 8.8 L848.0 8.8 L850.3 8.8 L852.7 8.8 L855.1 8.8 L857.5 8.8 L859.9 8.8 L862.3 8.8 L864.7 8.8 L867.1 8.8 L869.4 8.8 L871.8 8.8 L874.2 8.8 L876.6 8.8 L879.0 8.8 L881.4 8.8 L883.8 8.8 L886.2 8.8 L888.5 8.8 L890.9 8.8 L893.3 8.8 L895.7 8.8 L898.1 8.8 L900.5 8.8 L902.9 8.8 L905.3 8.8 L907.6 8.8 L910.0 8.8 L912.4 8.8 L914.8 8.8 L917.2 8.8 L919.6 8.8 L922.0 8.8 L924.3 8.8 L926.7 8.8 L929.1 8.8 L931.5 8.8 L933.9 8.8 L936.3 8.8 L938.7 8.8 L941.1 8.8 L943.4 8.8 L945.8 8.8 L948.2 8.8 L950.6 8.8 L953.0 8.8 L955.4 8.8 L957.8 8.8 L960.2 8.8 L962.5 8.8 L964.9 8.9 L967.3 8.9 L969.7 8.9 L972.1 8.9 L974.5 8.9 L976.9 8.9 L979.2 8.9 L981.6 8.9 L984.0 8.9 L986.4 8.9 L988.8 8.9 L991.2 8.9 L993.6 8.9 L996.0 8.9 L998.3 8.9 L1000.7 8.9 L1003.1 8.9 L1005.5 8.9 L1007.9 8.9 L1010.3 8.9 L1012.7 8.9 L1015.1 8.9 L1017.4 8.9 L1019.8 8.9 L1022.2 8.9 L1024.6 8.9 L1027.0 8.9 L1029.4 8.9 L1031.8 8.9 L1034.1 8.9 L1036.5 8.9 L1038.9 8.9 L1041.3 8.9 L1043.7 8.9 L1046.1 8.9 L1048.5 8.9 L1050.9 8.9 L1053.2 8.9 L1055.6 8.9 L1058.0 8.9 L1060.4 8.9 L1062.8 8.9 L1065.2 8.9 L1067.6 8.9 L1070.0 8.9 L1072.3 8.9 L1074.7 8.9 L1077.1 8.9 L1079.5 8.9 L1081.9 8.9 L1084.3 8.9 L1086.7 8.9 L1089.0 8.9 L1091.4 8.9 L1093.8 8.9 L1096.2 8.9 L1098.6 8.9 L1101.0 8.9 L1103.4 8.9 L1105.8 8.9 L1108.1 8.9 L1110.5 8.9 L1112.9 8.9 L1115.3 8.9 L1117.7 8.9 L1120.1 8.9 L1122.5 8.9 L1124.9 8.9 L1127.2 8.9 L1129.6 8.9 L1132.0 8.9 L1134.4 8.9 L1136.8 8.9 L1139.2 8.9 L1141.6 8.9 L1144.0 8.9 L1146.3 8.9 L1148.7 8.9 L1151.1 8.9 L1153.5 8.9 L1155.9 8.9 L1158.3 8.9 L1160.7 8.9 L1163.0 8.9 L1165.4 8.9 L1167.8 8.9 L1170.2 8.9 L1172.6 8.9 L1175.0 8.9 L1177.4 8.9 L1179.8 8.9 L1182.1 8.9 L1184.5 8.9 L1186.9 8.9 L1189.3 8.9 L1191.7 8.9 L1194.1 8.9 L1196.5 8.9 L1198.9 8.9 L1201.2 8.9 L1203.6 8.9 L1206.0 8.9 L1208.4 8.9 L1210.8 8.9 L1213.2 8.9 L1215.6 8.9 L1217.9 8.9 L1220.3 8.9 L1222.7 8.9 L1225.1 8.9 L1227.5 8.9 L1229.9 8.9 L1232.3 8.9 L1234.7 8.9 L1237.0 8.9 L1239.4 8.9 L1241.8 8.9 L1244.2 9.0 L1246.6 9.0 L1249.0 9.0 L1251.4 9.0 L1253.8 9.0 L1256.1 9.0 L1258.5 9.0 L1260.9 9.0 L1263.3 9.0 L1265.7 9.0 L1268.1 9.0 L1270.5 9.0 L1272.8 9.0 L1275.2 9.0 L1277.6 9.0 L1280.0 9.0 L1282.4 9.0 L1284.8 9.0 L1287.2 9.0 L1289.6 9.0 L1291.9 9.0 L1294.3 9.0 L1296.7 9.0 L1299.1 9.0 L1301.5 9.0 L1303.9 9.0 L1306.3 9.0 L1308.7 9.0 L1311.0 9.0 L1313.4 9.0 L1315.8 9.0 L1318.2 9.0 L1320.6 9.0 L1323.0 9.0 L1325.4 9.0 L1327.7 9.0 L1330.1 9.0 L1332.5 9.0 L1334.9 9.0 L1337.3 9.0 L1339.7 9.0 L1342.1 9.0 L1344.5 9.0 L1346.8 9.0 L1349.2 9.0 L1351.6 9.0 L1354.0 9.0 L1356.4 9.0 L1358.8 9.0 L1361.2 9.0 L1363.6 9.0 L1365.9 9.0 L1368.3 9.0 L1370.7 9.0 L1373.1 9.0 L1375.5 9.0 L1377.9 9.0 L1380.3 9.0 L1382.7 9.0" stroke="#8f3208" stroke-width="3.8" stroke-dasharray="3.4 2.8"/>
<g fill="#8f3208" stroke="none"><circle cx="69.8" cy="33.7" r="4"/><circle cx="72.2" cy="33.4" r="4"/><circle cx="74.6" cy="33.2" r="4"/><circle cx="77.0" cy="32.9" r="4"/><circle cx="79.3" cy="32.6" r="4"/><circle cx="81.7" cy="32.4" r="4"/><circle cx="84.1" cy="32.1" r="4"/><circle cx="86.5" cy="31.9" r="4"/><circle cx="88.9" cy="31.6" r="4"/><circle cx="91.3" cy="31.4" r="4"/><circle cx="93.7" cy="31.2" r="4"/><circle cx="96.1" cy="31.0" r="4"/><circle cx="98.4" cy="30.8" r="4"/><circle cx="100.8" cy="30.6" r="4"/><circle cx="103.2" cy="30.3" r="4"/><circle cx="105.6" cy="30.1" r="4"/><circle cx="108.0" cy="29.9" r="4"/><circle cx="110.4" cy="29.7" r="4"/><circle cx="113.6" cy="29.4" r="4"/><circle cx="115.2" cy="29.7" r="4"/><circle cx="117.5" cy="30.2" r="4"/><circle cx="119.9" cy="30.7" r="4"/><circle cx="122.3" cy="31.2" r="4"/><circle cx="124.7" cy="31.7" r="4"/><circle cx="127.1" cy="32.1" r="4"/><circle cx="129.5" cy="32.6" r="4"/><circle cx="131.9" cy="33.1" r="4"/><circle cx="134.2" cy="33.6" r="4"/><circle cx="136.6" cy="34.0" r="4"/><circle cx="139.0" cy="34.4" r="4"/><circle cx="141.4" cy="34.8" r="4"/><circle cx="143.8" cy="35.1" r="4"/><circle cx="147.3" cy="35.7" r="4"/><circle cx="148.6" cy="34.3" r="4"/><circle cx="151.0" cy="31.7" r="4"/><circle cx="154.3" cy="28.0" r="4"/><circle cx="155.7" cy="28.7" r="4"/><circle cx="158.1" cy="29.7" r="4"/><circle cx="160.5" cy="30.8" r="4"/><circle cx="162.9" cy="31.9" r="4"/><circle cx="165.3" cy="33.0" r="4"/><circle cx="167.7" cy="34.1" r="4"/><circle cx="170.1" cy="35.2" r="4"/><circle cx="172.4" cy="36.3" r="4"/><circle cx="174.8" cy="36.9" r="4"/><circle cx="177.2" cy="37.6" r="4"/><circle cx="179.6" cy="38.2" r="4"/><circle cx="182.0" cy="38.9" r="4"/><circle cx="184.4" cy="39.5" r="4"/><circle cx="186.8" cy="40.2" r="4"/><circle cx="189.2" cy="40.8" r="4"/><circle cx="191.5" cy="41.5" r="4"/><circle cx="193.9" cy="42.1" r="4"/><circle cx="196.3" cy="42.8" r="4"/><circle cx="198.7" cy="43.4" r="4"/><circle cx="201.1" cy="43.9" r="4"/><circle cx="203.5" cy="44.5" r="4"/><circle cx="205.9" cy="45.0" r="4"/><circle cx="208.2" cy="45.6" r="4"/><circle cx="210.6" cy="46.0" r="4"/><circle cx="213.0" cy="46.0" r="4"/><circle cx="215.4" cy="46.0" r="4"/><circle cx="217.8" cy="46.0" r="4"/><circle cx="220.2" cy="45.9" r="4"/><circle cx="222.6" cy="44.2" r="4"/><circle cx="225.0" cy="42.6" r="4"/><circle cx="227.3" cy="40.9" r="4"/><circle cx="229.7" cy="39.3" r="4"/><circle cx="232.4" cy="37.4" r="4"/><circle cx="234.5" cy="37.8" r="4"/><circle cx="236.9" cy="38.2" r="4"/><circle cx="239.3" cy="38.6" r="4"/><circle cx="241.7" cy="39.0" r="4"/><circle cx="244.1" cy="39.4" r="4"/><circle cx="246.4" cy="39.8" r="4"/><circle cx="248.8" cy="40.6" r="4"/><circle cx="251.2" cy="41.6" r="4"/><circle cx="253.6" cy="42.6" r="4"/><circle cx="256.0" cy="43.6" r="4"/><circle cx="258.4" cy="44.6" r="4"/><circle cx="260.8" cy="45.6" r="4"/><circle cx="263.1" cy="46.7" r="4"/><circle cx="265.5" cy="47.8" r="4"/><circle cx="267.9" cy="49.3" r="4"/><circle cx="270.3" cy="50.9" r="4"/><circle cx="272.7" cy="52.4" r="4"/><circle cx="275.1" cy="54.0" r="4"/><circle cx="277.5" cy="55.5" r="4"/><circle cx="279.9" cy="57.0" r="4"/><circle cx="282.2" cy="58.6" r="4"/><circle cx="284.6" cy="61.1" r="4"/><circle cx="287.0" cy="63.7" r="4"/><circle cx="289.4" cy="66.3" r="4"/><circle cx="291.8" cy="68.9" r="4"/><circle cx="294.2" cy="71.4" r="4"/><circle cx="296.6" cy="74.0" r="4"/><circle cx="299.0" cy="77.1" r="4"/><circle cx="301.3" cy="80.3" r="4"/><circle cx="303.7" cy="83.6" r="4"/><circle cx="306.1" cy="86.9" r="4"/><circle cx="308.5" cy="88.9" r="4"/><circle cx="310.9" cy="89.6" r="4"/><circle cx="313.3" cy="90.3" r="4"/><circle cx="315.7" cy="91.1" r="4"/><circle cx="318.0" cy="91.8" r="4"/><circle cx="320.4" cy="92.8" r="4"/><circle cx="322.8" cy="94.4" r="4"/><circle cx="325.2" cy="95.9" r="4"/><circle cx="327.6" cy="97.5" r="4"/><circle cx="330.0" cy="99.1" r="4"/><circle cx="332.4" cy="100.7" r="4"/><circle cx="334.8" cy="102.3" r="4"/><circle cx="337.1" cy="104.6" r="4"/><circle cx="339.5" cy="107.0" r="4"/><circle cx="341.9" cy="109.4" r="4"/><circle cx="344.3" cy="111.8" r="4"/><circle cx="346.7" cy="114.2" r="4"/><circle cx="349.1" cy="116.6" r="4"/><circle cx="351.5" cy="119.4" r="4"/><circle cx="353.9" cy="122.4" r="4"/><circle cx="356.2" cy="125.4" r="4"/><circle cx="358.6" cy="128.4" r="4"/><circle cx="361.0" cy="133.0" r="4"/><circle cx="363.4" cy="139.5" r="4"/><circle cx="365.8" cy="145.9" r="4"/><circle cx="368.2" cy="154.2" r="4"/><circle cx="370.6" cy="165.5" r="4"/><circle cx="372.9" cy="176.9" r="4"/><circle cx="375.3" cy="190.4" r="4"/><circle cx="377.7" cy="204.8" r="4"/><circle cx="380.1" cy="220.4" r="4"/><circle cx="382.5" cy="244.6" r="4"/><circle cx="384.9" cy="273.9" r="4"/><circle cx="387.3" cy="306.7" r="4"/><circle cx="389.7" cy="340.4" r="4"/><circle cx="393.0" cy="380.5" r="4"/><circle cx="394.4" cy="366.1" r="4"/><circle cx="396.8" cy="342.0" r="4"/><circle cx="399.2" cy="304.5" r="4"/><circle cx="401.6" cy="265.6" r="4"/><circle cx="404.0" cy="243.8" r="4"/><circle cx="406.4" cy="223.0" r="4"/><circle cx="408.8" cy="203.5" r="4"/><circle cx="411.1" cy="191.0" r="4"/><circle cx="413.5" cy="178.5" r="4"/><circle cx="415.9" cy="166.5" r="4"/><circle cx="418.3" cy="156.5" r="4"/><circle cx="420.7" cy="151.3" r="4"/><circle cx="423.1" cy="146.0" r="4"/><circle cx="425.5" cy="141.0" r="4"/><circle cx="427.9" cy="133.7" r="4"/><circle cx="429.4" cy="123.7" r="4"/><circle cx="432.6" cy="133.7" r="4"/><circle cx="434.1" cy="134.6" r="4"/><circle cx="437.4" cy="128.1" r="4"/><circle cx="439.8" cy="123.4" r="4"/><circle cx="442.2" cy="118.4" r="4"/><circle cx="444.6" cy="113.1" r="4"/><circle cx="447.8" cy="106.0" r="4"/><circle cx="449.3" cy="110.2" r="4"/><circle cx="452.6" cy="115.5" r="4"/><circle cx="454.1" cy="108.3" r="4"/><circle cx="456.5" cy="101.5" r="4"/><circle cx="458.9" cy="97.5" r="4"/><circle cx="461.3" cy="94.8" r="4"/><circle cx="463.7" cy="92.1" r="4"/><circle cx="466.0" cy="89.4" r="4"/><circle cx="468.4" cy="86.7" r="4"/><circle cx="470.8" cy="85.1" r="4"/><circle cx="473.2" cy="83.5" r="4"/><circle cx="475.6" cy="81.9" r="4"/><circle cx="478.0" cy="80.3" r="4"/><circle cx="480.4" cy="78.8" r="4"/><circle cx="482.8" cy="77.6" r="4"/><circle cx="485.1" cy="76.4" r="4"/><circle cx="487.5" cy="75.2" r="4"/><circle cx="489.9" cy="74.1" r="4"/><circle cx="492.3" cy="73.8" r="4"/><circle cx="494.7" cy="73.4" r="4"/><circle cx="497.1" cy="73.1" r="4"/><circle cx="499.5" cy="72.8" r="4"/><circle cx="501.8" cy="72.5" r="4"/><circle cx="504.2" cy="72.2" r="4"/><circle cx="506.6" cy="71.9" r="4"/><circle cx="509.0" cy="71.6" r="4"/><circle cx="511.4" cy="71.5" r="4"/><circle cx="513.8" cy="71.6" r="4"/><circle cx="516.2" cy="71.6" r="4"/><circle cx="518.6" cy="71.7" r="4"/><circle cx="520.9" cy="71.9" r="4"/><circle cx="523.3" cy="72.3" r="4"/><circle cx="525.7" cy="72.8" r="4"/><circle cx="528.1" cy="73.2" r="4"/><circle cx="530.5" cy="73.7" r="4"/><circle cx="532.9" cy="74.1" r="4"/><circle cx="535.3" cy="74.6" r="4"/><circle cx="537.7" cy="75.1" r="4"/><circle cx="540.0" cy="76.2" r="4"/><circle cx="542.4" cy="77.3" r="4"/><circle cx="544.8" cy="78.4" r="4"/><circle cx="547.2" cy="79.5" r="4"/><circle cx="549.6" cy="80.5" r="4"/><circle cx="552.0" cy="81.3" r="4"/><circle cx="554.4" cy="82.0" r="4"/><circle cx="556.7" cy="82.8" r="4"/><circle cx="559.1" cy="83.6" r="4"/><circle cx="560.5" cy="84.0" r="4"/><circle cx="563.9" cy="80.1" r="4"/><circle cx="566.3" cy="77.4" r="4"/><circle cx="568.7" cy="74.7" r="4"/><circle cx="571.1" cy="70.3" r="4"/><circle cx="573.5" cy="64.9" r="4"/><circle cx="575.8" cy="59.5" r="4"/><circle cx="578.2" cy="55.0" r="4"/><circle cx="580.6" cy="50.6" r="4"/><circle cx="583.0" cy="46.3" r="4"/><circle cx="585.4" cy="42.3" r="4"/><circle cx="587.8" cy="39.3" r="4"/><circle cx="590.2" cy="36.4" r="4"/><circle cx="592.6" cy="33.4" r="4"/><circle cx="594.9" cy="31.5" r="4"/><circle cx="597.3" cy="30.2" r="4"/><circle cx="599.7" cy="28.9" r="4"/><circle cx="602.1" cy="27.6" r="4"/><circle cx="604.5" cy="26.3" r="4"/><circle cx="606.9" cy="25.3" r="4"/><circle cx="609.3" cy="24.6" r="4"/><circle cx="611.6" cy="23.9" r="4"/><circle cx="614.0" cy="23.2" r="4"/><circle cx="616.4" cy="22.5" r="4"/><circle cx="618.8" cy="21.8" r="4"/><circle cx="621.2" cy="21.2" r="4"/><circle cx="623.6" cy="20.7" r="4"/><circle cx="626.0" cy="20.1" r="4"/><circle cx="628.4" cy="19.6" r="4"/><circle cx="630.7" cy="19.0" r="4"/><circle cx="633.1" cy="18.4" r="4"/><circle cx="635.5" cy="17.9" r="4"/><circle cx="637.9" cy="17.3" r="4"/><circle cx="640.3" cy="16.8" r="4"/><circle cx="642.7" cy="16.3" r="4"/><circle cx="645.1" cy="15.8" r="4"/><circle cx="647.5" cy="15.2" r="4"/><circle cx="649.8" cy="14.7" r="4"/><circle cx="652.2" cy="14.2" r="4"/><circle cx="654.6" cy="13.7" r="4"/><circle cx="657.0" cy="13.1" r="4"/><circle cx="659.4" cy="12.6" r="4"/><circle cx="661.8" cy="12.1" r="4"/><circle cx="664.2" cy="11.8" r="4"/><circle cx="666.6" cy="11.5" r="4"/><circle cx="668.9" cy="11.2" r="4"/><circle cx="671.3" cy="10.9" r="4"/><circle cx="673.7" cy="10.6" r="4"/><circle cx="676.1" cy="10.5" r="4"/><circle cx="678.5" cy="10.4" r="4"/><circle cx="680.9" cy="10.3" r="4"/><circle cx="683.3" cy="10.2" r="4"/><circle cx="685.6" cy="10.1" r="4"/><circle cx="688.0" cy="10.0" r="4"/><circle cx="690.4" cy="9.9" r="4"/><circle cx="692.8" cy="9.8" r="4"/><circle cx="695.2" cy="9.7" r="4"/><circle cx="697.6" cy="9.6" r="4"/><circle cx="700.0" cy="9.5" r="4"/><circle cx="702.4" cy="9.4" r="4"/><circle cx="704.7" cy="9.3" r="4"/><circle cx="707.1" cy="9.2" r="4"/><circle cx="709.5" cy="9.1" r="4"/><circle cx="711.9" cy="9.0" r="4"/><circle cx="714.3" cy="9.0" r="4"/><circle cx="716.7" cy="9.0" r="4"/><circle cx="719.1" cy="9.0" r="4"/><circle cx="721.5" cy="9.0" r="4"/><circle cx="723.8" cy="9.0" r="4"/><circle cx="726.2" cy="9.0" r="4"/><circle cx="728.6" cy="9.0" r="4"/><circle cx="731.0" cy="9.0" r="4"/><circle cx="733.4" cy="9.0" r="4"/><circle cx="735.8" cy="9.0" r="4"/><circle cx="738.2" cy="9.0" r="4"/><circle cx="740.5" cy="8.9" r="4"/><circle cx="742.9" cy="8.9" r="4"/><circle cx="745.3" cy="8.9" r="4"/><circle cx="747.7" cy="8.9" r="4"/><circle cx="750.1" cy="8.9" r="4"/><circle cx="752.5" cy="8.9" r="4"/><circle cx="754.9" cy="8.9" r="4"/><circle cx="757.3" cy="8.9" r="4"/><circle cx="759.6" cy="8.9" r="4"/><circle cx="762.0" cy="8.9" r="4"/><circle cx="764.4" cy="8.9" r="4"/><circle cx="766.8" cy="8.9" r="4"/><circle cx="769.2" cy="8.9" r="4"/><circle cx="771.6" cy="8.9" r="4"/><circle cx="774.0" cy="8.9" r="4"/><circle cx="776.4" cy="8.9" r="4"/><circle cx="778.7" cy="8.9" r="4"/><circle cx="781.1" cy="8.9" r="4"/><circle cx="783.5" cy="8.9" r="4"/><circle cx="785.9" cy="8.9" r="4"/><circle cx="788.3" cy="8.9" r="4"/><circle cx="790.7" cy="8.9" r="4"/><circle cx="793.1" cy="8.9" r="4"/><circle cx="795.4" cy="8.9" r="4"/><circle cx="797.8" cy="8.8" r="4"/><circle cx="800.2" cy="8.8" r="4"/><circle cx="802.6" cy="8.8" r="4"/><circle cx="805.0" cy="8.8" r="4"/><circle cx="807.4" cy="8.8" r="4"/><circle cx="809.8" cy="8.8" r="4"/><circle cx="812.2" cy="8.8" r="4"/><circle cx="814.5" cy="8.8" r="4"/><circle cx="816.9" cy="8.8" r="4"/><circle cx="819.3" cy="8.8" r="4"/><circle cx="821.7" cy="8.8" r="4"/><circle cx="824.1" cy="8.8" r="4"/><circle cx="826.5" cy="8.8" r="4"/><circle cx="828.9" cy="8.8" r="4"/><circle cx="831.3" cy="8.8" r="4"/><circle cx="833.6" cy="8.8" r="4"/><circle cx="836.0" cy="8.8" r="4"/><circle cx="838.4" cy="8.8" r="4"/><circle cx="840.8" cy="8.8" r="4"/><circle cx="843.2" cy="8.8" r="4"/><circle cx="845.6" cy="8.8" r="4"/><circle cx="848.0" cy="8.8" r="4"/><circle cx="850.3" cy="8.8" r="4"/><circle cx="852.7" cy="8.8" r="4"/><circle cx="855.1" cy="8.8" r="4"/><circle cx="857.5" cy="8.8" r="4"/><circle cx="859.9" cy="8.8" r="4"/><circle cx="862.3" cy="8.8" r="4"/><circle cx="864.7" cy="8.8" r="4"/><circle cx="867.1" cy="8.8" r="4"/><circle cx="869.4" cy="8.8" r="4"/><circle cx="871.8" cy="8.8" r="4"/><circle cx="874.2" cy="8.8" r="4"/><circle cx="876.6" cy="8.8" r="4"/><circle cx="879.0" cy="8.8" r="4"/><circle cx="881.4" cy="8.8" r="4"/><circle cx="883.8" cy="8.8" r="4"/><circle cx="886.2" cy="8.8" r="4"/><circle cx="888.5" cy="8.8" r="4"/><circle cx="890.9" cy="8.8" r="4"/><circle cx="893.3" cy="8.8" r="4"/><circle cx="895.7" cy="8.8" r="4"/><circle cx="898.1" cy="8.8" r="4"/><circle cx="900.5" cy="8.8" r="4"/><circle cx="902.9" cy="8.8" r="4"/><circle cx="905.3" cy="8.8" r="4"/><circle cx="907.6" cy="8.8" r="4"/><circle cx="910.0" cy="8.8" r="4"/><circle cx="912.4" cy="8.8" r="4"/><circle cx="914.8" cy="8.8" r="4"/><circle cx="917.2" cy="8.8" r="4"/><circle cx="919.6" cy="8.8" r="4"/><circle cx="922.0" cy="8.8" r="4"/><circle cx="924.3" cy="8.8" r="4"/><circle cx="926.7" cy="8.8" r="4"/><circle cx="929.1" cy="8.8" r="4"/><circle cx="931.5" cy="8.8" r="4"/><circle cx="933.9" cy="8.8" r="4"/><circle cx="936.3" cy="8.8" r="4"/><circle cx="938.7" cy="8.8" r="4"/><circle cx="941.1" cy="8.8" r="4"/><circle cx="943.4" cy="8.8" r="4"/><circle cx="945.8" cy="8.8" r="4"/><circle cx="948.2" cy="8.8" r="4"/><circle cx="950.6" cy="8.8" r="4"/><circle cx="953.0" cy="8.8" r="4"/><circle cx="955.4" cy="8.8" r="4"/><circle cx="957.8" cy="8.8" r="4"/><circle cx="960.2" cy="8.8" r="4"/><circle cx="962.5" cy="8.8" r="4"/><circle cx="964.9" cy="8.9" r="4"/><circle cx="967.3" cy="8.9" r="4"/><circle cx="969.7" cy="8.9" r="4"/><circle cx="972.1" cy="8.9" r="4"/><circle cx="974.5" cy="8.9" r="4"/><circle cx="976.9" cy="8.9" r="4"/><circle cx="979.2" cy="8.9" r="4"/><circle cx="981.6" cy="8.9" r="4"/><circle cx="984.0" cy="8.9" r="4"/><circle cx="986.4" cy="8.9" r="4"/><circle cx="988.8" cy="8.9" r="4"/><circle cx="991.2" cy="8.9" r="4"/><circle cx="993.6" cy="8.9" r="4"/><circle cx="996.0" cy="8.9" r="4"/><circle cx="998.3" cy="8.9" r="4"/><circle cx="1000.7" cy="8.9" r="4"/><circle cx="1003.1" cy="8.9" r="4"/><circle cx="1005.5" cy="8.9" r="4"/><circle cx="1007.9" cy="8.9" r="4"/><circle cx="1010.3" cy="8.9" r="4"/><circle cx="1012.7" cy="8.9" r="4"/><circle cx="1015.1" cy="8.9" r="4"/><circle cx="1017.4" cy="8.9" r="4"/><circle cx="1019.8" cy="8.9" r="4"/><circle cx="1022.2" cy="8.9" r="4"/><circle cx="1024.6" cy="8.9" r="4"/><circle cx="1027.0" cy="8.9" r="4"/><circle cx="1029.4" cy="8.9" r="4"/><circle cx="1031.8" cy="8.9" r="4"/><circle cx="1034.1" cy="8.9" r="4"/><circle cx="1036.5" cy="8.9" r="4"/><circle cx="1038.9" cy="8.9" r="4"/><circle cx="1041.3" cy="8.9" r="4"/><circle cx="1043.7" cy="8.9" r="4"/><circle cx="1046.1" cy="8.9" r="4"/><circle cx="1048.5" cy="8.9" r="4"/><circle cx="1050.9" cy="8.9" r="4"/><circle cx="1053.2" cy="8.9" r="4"/><circle cx="1055.6" cy="8.9" r="4"/><circle cx="1058.0" cy="8.9" r="4"/><circle cx="1060.4" cy="8.9" r="4"/><circle cx="1062.8" cy="8.9" r="4"/><circle cx="1065.2" cy="8.9" r="4"/><circle cx="1067.6" cy="8.9" r="4"/><circle cx="1070.0" cy="8.9" r="4"/><circle cx="1072.3" cy="8.9" r="4"/><circle cx="1074.7" cy="8.9" r="4"/><circle cx="1077.1" cy="8.9" r="4"/><circle cx="1079.5" cy="8.9" r="4"/><circle cx="1081.9" cy="8.9" r="4"/><circle cx="1084.3" cy="8.9" r="4"/><circle cx="1086.7" cy="8.9" r="4"/><circle cx="1089.0" cy="8.9" r="4"/><circle cx="1091.4" cy="8.9" r="4"/><circle cx="1093.8" cy="8.9" r="4"/><circle cx="1096.2" cy="8.9" r="4"/><circle cx="1098.6" cy="8.9" r="4"/><circle cx="1101.0" cy="8.9" r="4"/><circle cx="1103.4" cy="8.9" r="4"/><circle cx="1105.8" cy="8.9" r="4"/><circle cx="1108.1" cy="8.9" r="4"/><circle cx="1110.5" cy="8.9" r="4"/><circle cx="1112.9" cy="8.9" r="4"/><circle cx="1115.3" cy="8.9" r="4"/><circle cx="1117.7" cy="8.9" r="4"/><circle cx="1120.1" cy="8.9" r="4"/><circle cx="1122.5" cy="8.9" r="4"/><circle cx="1124.9" cy="8.9" r="4"/><circle cx="1127.2" cy="8.9" r="4"/><circle cx="1129.6" cy="8.9" r="4"/><circle cx="1132.0" cy="8.9" r="4"/><circle cx="1134.4" cy="8.9" r="4"/><circle cx="1136.8" cy="8.9" r="4"/><circle cx="1139.2" cy="8.9" r="4"/><circle cx="1141.6" cy="8.9" r="4"/><circle cx="1144.0" cy="8.9" r="4"/><circle cx="1146.3" cy="8.9" r="4"/><circle cx="1148.7" cy="8.9" r="4"/><circle cx="1151.1" cy="8.9" r="4"/><circle cx="1153.5" cy="8.9" r="4"/><circle cx="1155.9" cy="8.9" r="4"/><circle cx="1158.3" cy="8.9" r="4"/><circle cx="1160.7" cy="8.9" r="4"/><circle cx="1163.0" cy="8.9" r="4"/><circle cx="1165.4" cy="8.9" r="4"/><circle cx="1167.8" cy="8.9" r="4"/><circle cx="1170.2" cy="8.9" r="4"/><circle cx="1172.6" cy="8.9" r="4"/><circle cx="1175.0" cy="8.9" r="4"/><circle cx="1177.4" cy="8.9" r="4"/><circle cx="1179.8" cy="8.9" r="4"/><circle cx="1182.1" cy="8.9" r="4"/><circle cx="1184.5" cy="8.9" r="4"/><circle cx="1186.9" cy="8.9" r="4"/><circle cx="1189.3" cy="8.9" r="4"/><circle cx="1191.7" cy="8.9" r="4"/><circle cx="1194.1" cy="8.9" r="4"/><circle cx="1196.5" cy="8.9" r="4"/><circle cx="1198.9" cy="8.9" r="4"/><circle cx="1201.2" cy="8.9" r="4"/><circle cx="1203.6" cy="8.9" r="4"/><circle cx="1206.0" cy="8.9" r="4"/><circle cx="1208.4" cy="8.9" r="4"/><circle cx="1210.8" cy="8.9" r="4"/><circle cx="1213.2" cy="8.9" r="4"/><circle cx="1215.6" cy="8.9" r="4"/><circle cx="1217.9" cy="8.9" r="4"/><circle cx="1220.3" cy="8.9" r="4"/><circle cx="1222.7" cy="8.9" r="4"/><circle cx="1225.1" cy="8.9" r="4"/><circle cx="1227.5" cy="8.9" r="4"/><circle cx="1229.9" cy="8.9" r="4"/><circle cx="1232.3" cy="8.9" r="4"/><circle cx="1234.7" cy="8.9" r="4"/><circle cx="1237.0" cy="8.9" r="4"/><circle cx="1239.4" cy="8.9" r="4"/><circle cx="1241.8" cy="8.9" r="4"/><circle cx="1244.2" cy="9.0" r="4"/><circle cx="1246.6" cy="9.0" r="4"/><circle cx="1249.0" cy="9.0" r="4"/><circle cx="1251.4" cy="9.0" r="4"/><circle cx="1253.8" cy="9.0" r="4"/><circle cx="1256.1" cy="9.0" r="4"/><circle cx="1258.5" cy="9.0" r="4"/><circle cx="1260.9" cy="9.0" r="4"/><circle cx="1263.3" cy="9.0" r="4"/><circle cx="1265.7" cy="9.0" r="4"/><circle cx="1268.1" cy="9.0" r="4"/><circle cx="1270.5" cy="9.0" r="4"/><circle cx="1272.8" cy="9.0" r="4"/><circle cx="1275.2" cy="9.0" r="4"/><circle cx="1277.6" cy="9.0" r="4"/><circle cx="1280.0" cy="9.0" r="4"/><circle cx="1282.4" cy="9.0" r="4"/><circle cx="1284.8" cy="9.0" r="4"/><circle cx="1287.2" cy="9.0" r="4"/><circle cx="1289.6" cy="9.0" r="4"/><circle cx="1291.9" cy="9.0" r="4"/><circle cx="1294.3" cy="9.0" r="4"/><circle cx="1296.7" cy="9.0" r="4"/><circle cx="1299.1" cy="9.0" r="4"/><circle cx="1301.5" cy="9.0" r="4"/><circle cx="1303.9" cy="9.0" r="4"/><circle cx="1306.3" cy="9.0" r="4"/><circle cx="1308.7" cy="9.0" r="4"/><circle cx="1311.0" cy="9.0" r="4"/><circle cx="1313.4" cy="9.0" r="4"/><circle cx="1315.8" cy="9.0" r="4"/><circle cx="1318.2" cy="9.0" r="4"/><circle cx="1320.6" cy="9.0" r="4"/><circle cx="1323.0" cy="9.0" r="4"/><circle cx="1325.4" cy="9.0" r="4"/><circle cx="1327.7" cy="9.0" r="4"/><circle cx="1330.1" cy="9.0" r="4"/><circle cx="1332.5" cy="9.0" r="4"/><circle cx="1334.9" cy="9.0" r="4"/><circle cx="1337.3" cy="9.0" r="4"/><circle cx="1339.7" cy="9.0" r="4"/><circle cx="1342.1" cy="9.0" r="4"/><circle cx="1344.5" cy="9.0" r="4"/><circle cx="1346.8" cy="9.0" r="4"/><circle cx="1349.2" cy="9.0" r="4"/><circle cx="1351.6" cy="9.0" r="4"/><circle cx="1354.0" cy="9.0" r="4"/><circle cx="1356.4" cy="9.0" r="4"/><circle cx="1358.8" cy="9.0" r="4"/><circle cx="1361.2" cy="9.0" r="4"/><circle cx="1363.6" cy="9.0" r="4"/><circle cx="1365.9" cy="9.0" r="4"/><circle cx="1368.3" cy="9.0" r="4"/><circle cx="1370.7" cy="9.0" r="4"/><circle cx="1373.1" cy="9.0" r="4"/><circle cx="1375.5" cy="9.0" r="4"/><circle cx="1377.9" cy="9.0" r="4"/><circle cx="1380.3" cy="9.0" r="4"/><circle cx="1382.7" cy="9.0" r="4"/></g>
<path d="M70.0 30.9 C77.0 30.1 101.2 25.8 113.6 25.7 C126.0 25.7 140.9 30.2 147.3 30.2 C153.5 30.0 149.5 24.9 153.5 24.5 C157.5 24.5 163.0 26.3 172.0 27.5 C181.0 28.7 201.6 31.5 209.6 31.9 C217.6 31.9 218.4 31.3 222.0 30.2 C225.6 29.1 224.4 25.0 232.4 25.0 C240.4 25.0 261.9 28.4 272.3 30.4 C282.7 32.4 289.3 34.7 297.3 37.4 C305.3 40.1 315.4 45.0 322.2 47.4 C329.0 49.8 334.5 51.4 339.7 52.4 C344.9 53.4 349.8 53.6 354.6 53.6 C359.4 53.4 364.7 52.0 369.6 51.0 C374.5 50.0 377.0 49.6 385.0 47.4 C393.0 45.2 411.9 39.7 419.9 37.4 C427.9 35.1 426.8 33.4 434.8 33.0 C442.8 33.0 459.3 34.2 469.7 35.0 C480.1 35.8 492.5 36.4 499.7 38.0 C506.9 39.6 509.8 41.4 515.0 44.9 C520.2 48.4 527.6 54.7 532.4 59.9 C537.2 65.1 541.7 71.3 544.9 77.3 C548.1 83.3 550.2 90.5 552.4 97.3 C554.6 104.1 557.0 111.9 558.6 119.7 C560.2 127.5 561.3 138.4 562.3 146.0 C563.3 153.6 563.6 156.8 564.8 167.4 C566.0 178.0 568.2 199.9 569.8 212.3 C571.4 224.7 573.6 238.1 574.8 244.7 C576.0 251.3 576.3 253.4 577.3 253.4 C578.3 252.2 579.6 245.0 581.0 237.2 C582.4 229.4 584.2 214.8 586.0 204.8 C587.8 194.8 590.5 181.0 592.3 174.9 C594.1 168.8 595.5 166.9 597.3 166.9 C599.1 167.7 601.7 172.6 603.5 179.9 C605.3 187.2 607.1 201.5 608.5 212.3 C609.9 223.1 611.0 237.6 612.2 247.2 C613.4 256.8 614.8 272.1 616.0 272.1 C617.2 272.1 618.5 256.8 619.7 247.2 C620.9 237.6 622.0 225.1 623.4 212.3 C624.8 199.5 626.8 178.0 628.4 167.4 C630.0 156.8 632.0 152.8 633.4 146.0 C634.8 139.2 635.4 132.9 637.2 124.7 C639.0 116.5 641.8 104.0 644.6 94.8 C647.4 85.6 651.4 74.1 654.6 67.3 C657.8 60.5 661.3 56.4 664.6 52.4 C667.9 48.4 672.2 44.8 675.0 42.4 C677.8 40.0 678.4 39.6 682.4 37.4 C686.4 35.2 693.1 31.3 699.9 28.7 C706.7 26.1 716.0 23.2 724.8 21.2 C733.6 19.2 744.7 17.5 754.7 16.2 C764.7 14.9 776.0 13.8 787.2 13.0 C798.4 12.2 813.4 11.8 825.0 11.2 C836.6 10.6 840.0 9.9 860.0 9.5 C880.0 9.1 907.6 9.0 950.0 9.0 C992.4 9.1 1055.7 9.7 1125.0 10.0 C1194.3 10.3 1342.1 10.8 1383.4 11.0" stroke="#0a7a0a" stroke-width="4.2" stroke-dasharray="3.5 2.7"/>
<path d="M70.0 29.4 C77.0 28.6 101.2 24.3 113.6 24.2 C126.0 24.2 140.9 28.7 147.3 28.7 C153.5 28.5 149.5 23.4 153.5 23.0 C157.5 23.0 163.0 24.8 172.0 26.0 C181.0 27.2 201.6 30.0 209.6 30.4 C217.6 30.4 218.4 29.8 222.0 28.7 C225.6 27.6 224.4 24.0 232.4 23.7 C240.4 23.7 260.7 25.4 272.3 27.0 C283.9 28.6 295.6 31.8 304.8 33.7 C314.0 35.6 322.5 37.6 329.7 38.7 C336.9 39.8 343.3 40.4 349.7 40.4 C356.1 40.4 364.0 39.8 369.6 38.7 C375.2 37.6 377.0 35.7 385.0 33.7 C393.0 31.7 412.3 27.9 419.9 26.2 C427.5 24.5 421.9 23.5 432.3 23.0 C442.7 23.0 473.9 23.0 484.7 23.0 C495.5 23.1 494.4 23.2 500.0 23.7 C505.6 24.2 513.2 24.6 520.0 26.2 C526.8 27.8 536.0 30.5 542.4 33.7 C548.8 36.9 555.3 43.4 559.9 46.0 C564.5 48.6 567.4 49.9 571.0 49.9 C574.6 49.9 577.7 48.1 582.3 46.0 C586.9 43.9 593.0 38.1 599.8 36.9 C606.6 36.9 616.7 38.7 624.7 38.7 C632.7 37.8 643.2 33.6 649.6 31.2 C656.0 28.8 659.0 25.7 665.0 23.7 C671.0 21.7 678.6 20.2 687.4 18.7 C696.2 17.2 709.8 15.5 719.8 14.5 C729.8 13.5 739.0 13.0 749.8 12.5 C760.6 12.0 775.0 11.5 787.0 11.2 C799.0 10.9 814.9 10.5 825.0 10.5 C835.1 10.5 846.0 11.1 850.0 11.2" stroke="#000" stroke-width="3.9" stroke-dasharray="11 2.2"/>
<path d="M850.0 11.2 C858.0 11.6 885.9 12.9 899.8 13.7 C913.7 14.5 925.0 15.3 937.0 16.2 C949.0 17.1 964.9 18.4 975.0 19.5 C985.1 20.6 991.9 21.9 999.9 23.0 C1007.9 24.1 1016.8 24.8 1024.8 26.2 C1032.8 27.6 1041.8 29.8 1049.8 32.0 C1057.8 34.2 1066.7 37.1 1074.7 40.0 C1082.7 42.9 1092.8 46.5 1099.6 49.9 C1106.4 53.3 1111.5 57.0 1117.5 61.2 C1123.5 65.4 1131.4 70.8 1137.4 76.0 C1143.4 81.2 1149.7 87.4 1154.9 93.6 C1160.1 99.8 1165.4 107.8 1169.8 114.8 C1174.2 121.8 1178.3 130.4 1182.3 137.2 C1186.3 144.0 1191.2 152.0 1194.8 157.2 C1198.4 162.4 1199.2 162.8 1204.8 170.0 C1210.4 177.2 1223.8 193.2 1229.8 202.4 C1235.8 211.6 1238.2 217.4 1242.2 227.4 C1246.2 237.4 1251.1 254.0 1254.7 264.8 C1258.3 275.6 1261.9 287.8 1264.7 294.7 C1267.5 301.6 1269.7 307.8 1272.1 307.8 C1274.5 307.0 1276.8 299.8 1279.6 289.7 C1282.4 279.6 1287.0 256.8 1289.6 244.8 C1292.2 232.8 1294.2 222.9 1296.0 215.0 C1297.8 207.1 1299.3 202.1 1301.0 195.5 C1302.7 188.9 1304.7 180.0 1306.5 174.0 C1308.3 168.0 1310.3 162.3 1312.0 158.0 C1313.7 153.7 1314.9 151.5 1317.3 147.0 C1319.7 142.5 1324.0 134.3 1327.2 129.8 C1330.4 125.3 1334.0 121.4 1337.2 118.6 C1340.4 115.8 1344.0 113.5 1347.2 112.3 C1350.4 111.1 1353.6 111.0 1357.2 111.0 C1360.8 111.2 1365.8 112.6 1369.6 113.6 C1373.4 114.6 1379.1 116.7 1380.9 117.3" stroke="#000" stroke-width="4.8" stroke-dasharray="16 2.2 10 2.2"/>
<ellipse cx="113.2" cy="210.0" rx="20.0" ry="66.0" stroke="#000" stroke-width="3.1" stroke-dasharray="13 12"/>
<ellipse cx="190.0" cy="195.0" rx="20.0" ry="80.0" stroke="#000" stroke-width="3.1" stroke-dasharray="13 12"/>
<ellipse cx="404.5" cy="202.7" rx="20.0" ry="95.7" stroke="#000" stroke-width="3.1" stroke-dasharray="13 12"/>
<ellipse cx="618.5" cy="181.5" rx="24.0" ry="52.5" stroke="#000" stroke-width="3.1" stroke-dasharray="13 12"/>
<ellipse cx="1249.7" cy="255.5" rx="22.7" ry="72.0" stroke="#000" stroke-width="3.1" stroke-dasharray="13 12"/>
</g>
<g class="t" fill="#111" font-size="21.8" stroke="#111" stroke-width="0.25">
<text transform="translate(69.2 552.6) scale(1.06 1)" text-anchor="middle">1</text>
<text transform="translate(188.8 552.6) scale(1.06 1)" text-anchor="middle">1.5</text>
<text transform="translate(308.4 552.6) scale(1.06 1)" text-anchor="middle">2</text>
<text transform="translate(427.9 552.6) scale(1.06 1)" text-anchor="middle">2.5</text>
<text transform="translate(547.5 552.6) scale(1.06 1)" text-anchor="middle">3</text>
<text transform="translate(667.1 552.6) scale(1.06 1)" text-anchor="middle">3.5</text>
<text transform="translate(786.7 552.6) scale(1.06 1)" text-anchor="middle">4</text>
<text transform="translate(906.3 552.6) scale(1.06 1)" text-anchor="middle">4.5</text>
<text transform="translate(1025.8 552.6) scale(1.06 1)" text-anchor="middle">5</text>
<text transform="translate(1145.4 552.6) scale(1.06 1)" text-anchor="middle">5.5</text>
<text transform="translate(1265.0 552.6) scale(1.06 1)" text-anchor="middle">6</text>
<text transform="translate(1384.6 552.6) scale(1.06 1)" text-anchor="middle">6.5</text>
<text transform="translate(62.2 15.3) scale(1.06 1)" text-anchor="end">0</text>
<text transform="translate(62.2 80.0) scale(1.06 1)" text-anchor="end">-5</text>
<text transform="translate(62.2 144.6) scale(1.06 1)" text-anchor="end">-10</text>
<text transform="translate(62.2 209.2) scale(1.06 1)" text-anchor="end">-15</text>
<text transform="translate(62.2 273.9) scale(1.06 1)" text-anchor="end">-20</text>
<text transform="translate(62.2 338.6) scale(1.06 1)" text-anchor="end">-25</text>
<text transform="translate(62.2 403.2) scale(1.06 1)" text-anchor="end">-30</text>
<text transform="translate(62.2 467.9) scale(1.06 1)" text-anchor="end">-35</text>
<text transform="translate(62.2 532.5) scale(1.06 1)" text-anchor="end">-40</text>
</g>
<g class="t" fill="#111" stroke="#111" stroke-width="0.3">
<text transform="translate(726.5 581) scale(1.10 1)" font-size="23.3" text-anchor="middle">Frequency (GHz)</text>
<text transform="translate(18.2 266) rotate(-90)" font-size="23.4" text-anchor="middle" textLength="186" lengthAdjust="spacing">Return loss (dB)</text>
</g>
<rect x="996.8" y="278.2" width="153.4" height="209.2" fill="#fff" stroke="#262626" stroke-width="1.1"/>
<g fill="none">
<path d="M1002 297.0H1041" stroke="#0000ff" stroke-width="4.2"/>
<path d="M1002 331.8H1017.7M1032 331.8H1041" stroke="#ff0000" stroke-width="3.8"/>
<path d="M1002 366.4H1019M1032 366.4H1041" stroke="#17298c" stroke-width="3.8"/>
<path d="M1016.5 366.4h9M1020.7 361.9v9" stroke="#17298c" stroke-width="3"/>
<path d="M1002 400.2H1041" stroke="#8f3208" stroke-width="3.8" stroke-dasharray="3.6 2.6"/>
<circle cx="1020.4" cy="400.2" r="3.5" fill="#8f3208"/>
<path d="M1002 434.6H1041" stroke="#0a7a0a" stroke-width="4.4" stroke-dasharray="3.8 2.4"/>
<path d="M1002 469.4H1017.7M1020.7 469.4H1030M1032 469.4H1041" stroke="#000" stroke-width="4.4"/>
</g>
<g class="t" fill="#000" stroke="#000" stroke-width="0.5">
<text transform="translate(1044.1 299.2) scale(1.176 1)" font-size="16">Passive S</text>
<text transform="translate(1129.9 306.8) scale(1.0 1)" font-size="14.8">11</text>
<text transform="translate(1043.5 334.0) scale(1.176 1)" font-size="16">Active S</text>
<text transform="translate(1115.3 341.6) scale(1.0 1)" font-size="14.8">11</text>
<text transform="translate(1043.5 368.6) scale(1.176 1)" font-size="16">Active S</text>
<text transform="translate(1114.0 376.2) scale(1.0 1)" font-size="14.8">22</text>
<text transform="translate(1043.5 402.4) scale(1.176 1)" font-size="16">Active S</text>
<text transform="translate(1114.0 410.0) scale(1.0 1)" font-size="14.8">33</text>
<text transform="translate(1043.5 436.8) scale(1.176 1)" font-size="16">Active S</text>
<text transform="translate(1114.0 444.4) scale(1.0 1)" font-size="14.8">44</text>
<text transform="translate(1043.5 471.6) scale(1.176 1)" font-size="16">Active S</text>
<text transform="translate(1114.0 479.2) scale(1.0 1)" font-size="14.8">55</text>
</g>
</svg>
</body></html>
